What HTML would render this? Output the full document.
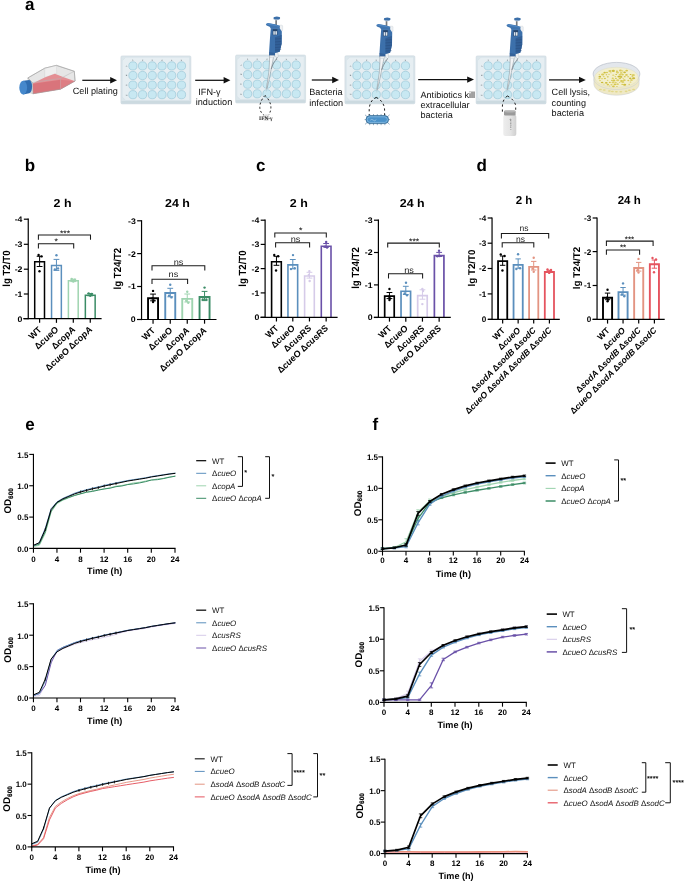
<!DOCTYPE html>
<html lang="en"><head><meta charset="utf-8"><title>Figure</title>
<style>html,body{margin:0;padding:0;background:#fff}svg{display:block}text{font-family:'Liberation Sans', Arial, Helvetica, sans-serif;text-rendering:geometricPrecision}</style></head><body>
<svg width="685" height="882" viewBox="0 0 685 882">
<rect width="685" height="882" fill="#fff"/>
<text x="24.9" y="9.8" font-size="17" font-weight="bold" font-style="normal" text-anchor="start" fill="#000">a</text>
<text x="24.8" y="171" font-size="17" font-weight="bold" font-style="normal" text-anchor="start" fill="#000">b</text>
<text x="256" y="170.6" font-size="17" font-weight="bold" font-style="normal" text-anchor="start" fill="#000">c</text>
<text x="476.4" y="171" font-size="17" font-weight="bold" font-style="normal" text-anchor="start" fill="#000">d</text>
<text x="25.2" y="430" font-size="17" font-weight="bold" font-style="normal" text-anchor="start" fill="#000">e</text>
<text x="372.6" y="429.8" font-size="17" font-weight="bold" font-style="normal" text-anchor="start" fill="#000">f</text>
<polygon points="27.8,77.93 44.66,68.22 56.41,65.36 74.29,71.28 75.11,80.99 60.49,89.17 32.9,93.77 32.39,82.52" fill="#e6e6e6" stroke="#9c9c9c" stroke-width="0.5" stroke-linejoin="round"/>
<polygon points="44.66,68.22 56.41,65.36 56.71,73.33 44.66,77.42" fill="#efefef" stroke="#c4c4c4" stroke-width="0.3" stroke-linejoin="round"/>
<polygon points="33.01,83.14 44.66,77.42 54.87,73.84 63.05,77.01 74.49,80.89 75.11,80.99 60.49,89.17 32.9,93.77" fill="#e48f94" stroke="none" stroke-width="0.4" stroke-linejoin="round"/>
<polygon points="32.7,83.75 60.49,79.66 60.49,89.17 32.9,93.77" fill="#d9747b" stroke="none" stroke-width="0.4" stroke-linejoin="round"/>
<polygon points="60.49,79.66 73.78,80.89 75.11,80.99 60.49,89.17" fill="#dd7e84" stroke="none" stroke-width="0.4" stroke-linejoin="round"/>
<polyline points="32.39,82.52 60.49,78.44 74.29,71.28" fill="none" stroke="#b5b5b5" stroke-width="0.5"/>
<line x1="60.49" y1="78.44" x2="60.49" y2="89.17" stroke="#c9a9ab" stroke-width="0.5"/>
<polygon points="27.8,77.93 44.66,68.22 56.41,65.36 74.29,71.28 75.11,80.99 60.49,89.17 32.9,93.77 32.39,82.52" fill="none" stroke="#9c9c9c" stroke-width="0.5" stroke-linejoin="round"/>
<polygon points="27.8,77.93 32.39,82.52 32.9,93.77 29.33,92.74" fill="#dcdcdc" stroke="#a6a6a6" stroke-width="0.3" stroke-linejoin="round"/>
<path d="M23.2 80.69 L29.33 79.97 A3.27 6.74 0 0 1 29.33 93.25 L23.2 94.58 Z" fill="#2f6db0"/>
<ellipse cx="23.2" cy="87.63" rx="3.88" ry="6.95" fill="#4588cc"/>
<rect x="120.9" y="55.9" width="70" height="48" rx="1.2" fill="#dbe6eb" stroke="#c6d3da" stroke-width="0.5"/>
<rect x="121.2" y="101" width="69.4" height="2.6" fill="#ccdae0"/>
<polygon points="125.7,57.3 189.5,57.3 189.5,100.5 125.7,100.5 122.3,97.1 122.3,60.7" fill="#e6eef2" stroke="#d0dce2" stroke-width="0.4" stroke-linejoin="round"/>
<circle cx="132.9" cy="65.9" r="4.1" fill="#c8e8f2" stroke="#93c3d4" stroke-width="0.6"/>
<circle cx="142.55" cy="65.9" r="4.1" fill="#c8e8f2" stroke="#93c3d4" stroke-width="0.6"/>
<circle cx="152.25" cy="65.9" r="4.1" fill="#c8e8f2" stroke="#93c3d4" stroke-width="0.6"/>
<circle cx="162" cy="65.9" r="4.1" fill="#c8e8f2" stroke="#93c3d4" stroke-width="0.6"/>
<circle cx="171.7" cy="65.9" r="4.1" fill="#c8e8f2" stroke="#93c3d4" stroke-width="0.6"/>
<circle cx="181.5" cy="65.9" r="4.1" fill="#c8e8f2" stroke="#93c3d4" stroke-width="0.6"/>
<circle cx="132.9" cy="75.5" r="4.1" fill="#c8e8f2" stroke="#93c3d4" stroke-width="0.6"/>
<circle cx="142.55" cy="75.5" r="4.1" fill="#c8e8f2" stroke="#93c3d4" stroke-width="0.6"/>
<circle cx="152.25" cy="75.5" r="4.1" fill="#c8e8f2" stroke="#93c3d4" stroke-width="0.6"/>
<circle cx="162" cy="75.5" r="4.1" fill="#c8e8f2" stroke="#93c3d4" stroke-width="0.6"/>
<circle cx="171.7" cy="75.5" r="4.1" fill="#c8e8f2" stroke="#93c3d4" stroke-width="0.6"/>
<circle cx="181.5" cy="75.5" r="4.1" fill="#c8e8f2" stroke="#93c3d4" stroke-width="0.6"/>
<circle cx="132.9" cy="85.1" r="4.1" fill="#c8e8f2" stroke="#93c3d4" stroke-width="0.6"/>
<circle cx="142.55" cy="85.1" r="4.1" fill="#c8e8f2" stroke="#93c3d4" stroke-width="0.6"/>
<circle cx="152.25" cy="85.1" r="4.1" fill="#c8e8f2" stroke="#93c3d4" stroke-width="0.6"/>
<circle cx="162" cy="85.1" r="4.1" fill="#c8e8f2" stroke="#93c3d4" stroke-width="0.6"/>
<circle cx="171.7" cy="85.1" r="4.1" fill="#c8e8f2" stroke="#93c3d4" stroke-width="0.6"/>
<circle cx="181.5" cy="85.1" r="4.1" fill="#c8e8f2" stroke="#93c3d4" stroke-width="0.6"/>
<circle cx="132.9" cy="94.7" r="4.1" fill="#c8e8f2" stroke="#93c3d4" stroke-width="0.6"/>
<circle cx="142.55" cy="94.7" r="4.1" fill="#c8e8f2" stroke="#93c3d4" stroke-width="0.6"/>
<circle cx="152.25" cy="94.7" r="4.1" fill="#c8e8f2" stroke="#93c3d4" stroke-width="0.6"/>
<circle cx="162" cy="94.7" r="4.1" fill="#c8e8f2" stroke="#93c3d4" stroke-width="0.6"/>
<circle cx="171.7" cy="94.7" r="4.1" fill="#c8e8f2" stroke="#93c3d4" stroke-width="0.6"/>
<circle cx="181.5" cy="94.7" r="4.1" fill="#c8e8f2" stroke="#93c3d4" stroke-width="0.6"/>
<text x="132.9" y="60.9" font-size="2.3" font-weight="normal" font-style="normal" text-anchor="middle" fill="#5d6a70">1</text>
<text x="142.55" y="60.9" font-size="2.3" font-weight="normal" font-style="normal" text-anchor="middle" fill="#5d6a70">2</text>
<text x="152.25" y="60.9" font-size="2.3" font-weight="normal" font-style="normal" text-anchor="middle" fill="#5d6a70">3</text>
<text x="162" y="60.9" font-size="2.3" font-weight="normal" font-style="normal" text-anchor="middle" fill="#5d6a70">4</text>
<text x="171.7" y="60.9" font-size="2.3" font-weight="normal" font-style="normal" text-anchor="middle" fill="#5d6a70">5</text>
<text x="181.5" y="60.9" font-size="2.3" font-weight="normal" font-style="normal" text-anchor="middle" fill="#5d6a70">6</text>
<text x="126.5" y="66.7" font-size="2.3" font-weight="normal" font-style="normal" text-anchor="middle" fill="#5d6a70">A</text>
<text x="126.5" y="76.3" font-size="2.3" font-weight="normal" font-style="normal" text-anchor="middle" fill="#5d6a70">B</text>
<text x="126.5" y="85.9" font-size="2.3" font-weight="normal" font-style="normal" text-anchor="middle" fill="#5d6a70">C</text>
<text x="126.5" y="95.5" font-size="2.3" font-weight="normal" font-style="normal" text-anchor="middle" fill="#5d6a70">D</text>
<rect x="235.6" y="55" width="70" height="48" rx="1.2" fill="#dbe6eb" stroke="#c6d3da" stroke-width="0.5"/>
<rect x="235.9" y="100.1" width="69.4" height="2.6" fill="#ccdae0"/>
<polygon points="240.4,56.4 304.2,56.4 304.2,99.6 240.4,99.6 237,96.2 237,59.8" fill="#e6eef2" stroke="#d0dce2" stroke-width="0.4" stroke-linejoin="round"/>
<circle cx="247.6" cy="65" r="4.1" fill="#c8e8f2" stroke="#93c3d4" stroke-width="0.6"/>
<circle cx="257.25" cy="65" r="4.1" fill="#c8e8f2" stroke="#93c3d4" stroke-width="0.6"/>
<circle cx="266.95" cy="65" r="4.1" fill="#c8e8f2" stroke="#93c3d4" stroke-width="0.6"/>
<circle cx="276.7" cy="65" r="4.1" fill="#c8e8f2" stroke="#93c3d4" stroke-width="0.6"/>
<circle cx="286.4" cy="65" r="4.1" fill="#c8e8f2" stroke="#93c3d4" stroke-width="0.6"/>
<circle cx="296.2" cy="65" r="4.1" fill="#c8e8f2" stroke="#93c3d4" stroke-width="0.6"/>
<circle cx="247.6" cy="74.6" r="4.1" fill="#c8e8f2" stroke="#93c3d4" stroke-width="0.6"/>
<circle cx="257.25" cy="74.6" r="4.1" fill="#c8e8f2" stroke="#93c3d4" stroke-width="0.6"/>
<circle cx="266.95" cy="74.6" r="4.1" fill="#c8e8f2" stroke="#93c3d4" stroke-width="0.6"/>
<circle cx="276.7" cy="74.6" r="4.1" fill="#c8e8f2" stroke="#93c3d4" stroke-width="0.6"/>
<circle cx="286.4" cy="74.6" r="4.1" fill="#c8e8f2" stroke="#93c3d4" stroke-width="0.6"/>
<circle cx="296.2" cy="74.6" r="4.1" fill="#c8e8f2" stroke="#93c3d4" stroke-width="0.6"/>
<circle cx="247.6" cy="84.2" r="4.1" fill="#c8e8f2" stroke="#93c3d4" stroke-width="0.6"/>
<circle cx="257.25" cy="84.2" r="4.1" fill="#c8e8f2" stroke="#93c3d4" stroke-width="0.6"/>
<circle cx="266.95" cy="84.2" r="4.1" fill="#c8e8f2" stroke="#93c3d4" stroke-width="0.6"/>
<circle cx="276.7" cy="84.2" r="4.1" fill="#c8e8f2" stroke="#93c3d4" stroke-width="0.6"/>
<circle cx="286.4" cy="84.2" r="4.1" fill="#c8e8f2" stroke="#93c3d4" stroke-width="0.6"/>
<circle cx="296.2" cy="84.2" r="4.1" fill="#c8e8f2" stroke="#93c3d4" stroke-width="0.6"/>
<circle cx="247.6" cy="93.8" r="4.1" fill="#c8e8f2" stroke="#93c3d4" stroke-width="0.6"/>
<circle cx="257.25" cy="93.8" r="4.1" fill="#c8e8f2" stroke="#93c3d4" stroke-width="0.6"/>
<circle cx="266.95" cy="93.8" r="4.1" fill="#c8e8f2" stroke="#93c3d4" stroke-width="0.6"/>
<circle cx="276.7" cy="93.8" r="4.1" fill="#c8e8f2" stroke="#93c3d4" stroke-width="0.6"/>
<circle cx="286.4" cy="93.8" r="4.1" fill="#c8e8f2" stroke="#93c3d4" stroke-width="0.6"/>
<circle cx="296.2" cy="93.8" r="4.1" fill="#c8e8f2" stroke="#93c3d4" stroke-width="0.6"/>
<text x="247.6" y="60" font-size="2.3" font-weight="normal" font-style="normal" text-anchor="middle" fill="#5d6a70">1</text>
<text x="257.25" y="60" font-size="2.3" font-weight="normal" font-style="normal" text-anchor="middle" fill="#5d6a70">2</text>
<text x="266.95" y="60" font-size="2.3" font-weight="normal" font-style="normal" text-anchor="middle" fill="#5d6a70">3</text>
<text x="276.7" y="60" font-size="2.3" font-weight="normal" font-style="normal" text-anchor="middle" fill="#5d6a70">4</text>
<text x="286.4" y="60" font-size="2.3" font-weight="normal" font-style="normal" text-anchor="middle" fill="#5d6a70">5</text>
<text x="296.2" y="60" font-size="2.3" font-weight="normal" font-style="normal" text-anchor="middle" fill="#5d6a70">6</text>
<text x="241.2" y="65.8" font-size="2.3" font-weight="normal" font-style="normal" text-anchor="middle" fill="#5d6a70">A</text>
<text x="241.2" y="75.4" font-size="2.3" font-weight="normal" font-style="normal" text-anchor="middle" fill="#5d6a70">B</text>
<text x="241.2" y="85" font-size="2.3" font-weight="normal" font-style="normal" text-anchor="middle" fill="#5d6a70">C</text>
<text x="241.2" y="94.6" font-size="2.3" font-weight="normal" font-style="normal" text-anchor="middle" fill="#5d6a70">D</text>
<rect x="344.9" y="55.8" width="70" height="48" rx="1.2" fill="#dbe6eb" stroke="#c6d3da" stroke-width="0.5"/>
<rect x="345.2" y="100.9" width="69.4" height="2.6" fill="#ccdae0"/>
<polygon points="349.7,57.2 413.5,57.2 413.5,100.4 349.7,100.4 346.3,97 346.3,60.6" fill="#e6eef2" stroke="#d0dce2" stroke-width="0.4" stroke-linejoin="round"/>
<circle cx="356.9" cy="65.8" r="4.1" fill="#c8e8f2" stroke="#93c3d4" stroke-width="0.6"/>
<circle cx="366.55" cy="65.8" r="4.1" fill="#c8e8f2" stroke="#93c3d4" stroke-width="0.6"/>
<circle cx="376.25" cy="65.8" r="4.1" fill="#c8e8f2" stroke="#93c3d4" stroke-width="0.6"/>
<circle cx="386" cy="65.8" r="4.1" fill="#c8e8f2" stroke="#93c3d4" stroke-width="0.6"/>
<circle cx="395.7" cy="65.8" r="4.1" fill="#c8e8f2" stroke="#93c3d4" stroke-width="0.6"/>
<circle cx="405.5" cy="65.8" r="4.1" fill="#c8e8f2" stroke="#93c3d4" stroke-width="0.6"/>
<circle cx="356.9" cy="75.4" r="4.1" fill="#c8e8f2" stroke="#93c3d4" stroke-width="0.6"/>
<circle cx="366.55" cy="75.4" r="4.1" fill="#c8e8f2" stroke="#93c3d4" stroke-width="0.6"/>
<circle cx="376.25" cy="75.4" r="4.1" fill="#c8e8f2" stroke="#93c3d4" stroke-width="0.6"/>
<circle cx="386" cy="75.4" r="4.1" fill="#c8e8f2" stroke="#93c3d4" stroke-width="0.6"/>
<circle cx="395.7" cy="75.4" r="4.1" fill="#c8e8f2" stroke="#93c3d4" stroke-width="0.6"/>
<circle cx="405.5" cy="75.4" r="4.1" fill="#c8e8f2" stroke="#93c3d4" stroke-width="0.6"/>
<circle cx="356.9" cy="85" r="4.1" fill="#c8e8f2" stroke="#93c3d4" stroke-width="0.6"/>
<circle cx="366.55" cy="85" r="4.1" fill="#c8e8f2" stroke="#93c3d4" stroke-width="0.6"/>
<circle cx="376.25" cy="85" r="4.1" fill="#c8e8f2" stroke="#93c3d4" stroke-width="0.6"/>
<circle cx="386" cy="85" r="4.1" fill="#c8e8f2" stroke="#93c3d4" stroke-width="0.6"/>
<circle cx="395.7" cy="85" r="4.1" fill="#c8e8f2" stroke="#93c3d4" stroke-width="0.6"/>
<circle cx="405.5" cy="85" r="4.1" fill="#c8e8f2" stroke="#93c3d4" stroke-width="0.6"/>
<circle cx="356.9" cy="94.6" r="4.1" fill="#c8e8f2" stroke="#93c3d4" stroke-width="0.6"/>
<circle cx="366.55" cy="94.6" r="4.1" fill="#c8e8f2" stroke="#93c3d4" stroke-width="0.6"/>
<circle cx="376.25" cy="94.6" r="4.1" fill="#c8e8f2" stroke="#93c3d4" stroke-width="0.6"/>
<circle cx="386" cy="94.6" r="4.1" fill="#c8e8f2" stroke="#93c3d4" stroke-width="0.6"/>
<circle cx="395.7" cy="94.6" r="4.1" fill="#c8e8f2" stroke="#93c3d4" stroke-width="0.6"/>
<circle cx="405.5" cy="94.6" r="4.1" fill="#c8e8f2" stroke="#93c3d4" stroke-width="0.6"/>
<text x="356.9" y="60.8" font-size="2.3" font-weight="normal" font-style="normal" text-anchor="middle" fill="#5d6a70">1</text>
<text x="366.55" y="60.8" font-size="2.3" font-weight="normal" font-style="normal" text-anchor="middle" fill="#5d6a70">2</text>
<text x="376.25" y="60.8" font-size="2.3" font-weight="normal" font-style="normal" text-anchor="middle" fill="#5d6a70">3</text>
<text x="386" y="60.8" font-size="2.3" font-weight="normal" font-style="normal" text-anchor="middle" fill="#5d6a70">4</text>
<text x="395.7" y="60.8" font-size="2.3" font-weight="normal" font-style="normal" text-anchor="middle" fill="#5d6a70">5</text>
<text x="405.5" y="60.8" font-size="2.3" font-weight="normal" font-style="normal" text-anchor="middle" fill="#5d6a70">6</text>
<text x="350.5" y="66.6" font-size="2.3" font-weight="normal" font-style="normal" text-anchor="middle" fill="#5d6a70">A</text>
<text x="350.5" y="76.2" font-size="2.3" font-weight="normal" font-style="normal" text-anchor="middle" fill="#5d6a70">B</text>
<text x="350.5" y="85.8" font-size="2.3" font-weight="normal" font-style="normal" text-anchor="middle" fill="#5d6a70">C</text>
<text x="350.5" y="95.4" font-size="2.3" font-weight="normal" font-style="normal" text-anchor="middle" fill="#5d6a70">D</text>
<rect x="476.1" y="55.9" width="70" height="48" rx="1.2" fill="#dbe6eb" stroke="#c6d3da" stroke-width="0.5"/>
<rect x="476.4" y="101" width="69.4" height="2.6" fill="#ccdae0"/>
<polygon points="480.9,57.3 544.7,57.3 544.7,100.5 480.9,100.5 477.5,97.1 477.5,60.7" fill="#e6eef2" stroke="#d0dce2" stroke-width="0.4" stroke-linejoin="round"/>
<circle cx="488.1" cy="65.9" r="4.1" fill="#c8e8f2" stroke="#93c3d4" stroke-width="0.6"/>
<circle cx="497.75" cy="65.9" r="4.1" fill="#c8e8f2" stroke="#93c3d4" stroke-width="0.6"/>
<circle cx="507.45" cy="65.9" r="4.1" fill="#c8e8f2" stroke="#93c3d4" stroke-width="0.6"/>
<circle cx="517.2" cy="65.9" r="4.1" fill="#c8e8f2" stroke="#93c3d4" stroke-width="0.6"/>
<circle cx="526.9" cy="65.9" r="4.1" fill="#c8e8f2" stroke="#93c3d4" stroke-width="0.6"/>
<circle cx="536.7" cy="65.9" r="4.1" fill="#c8e8f2" stroke="#93c3d4" stroke-width="0.6"/>
<circle cx="488.1" cy="75.5" r="4.1" fill="#c8e8f2" stroke="#93c3d4" stroke-width="0.6"/>
<circle cx="497.75" cy="75.5" r="4.1" fill="#c8e8f2" stroke="#93c3d4" stroke-width="0.6"/>
<circle cx="507.45" cy="75.5" r="4.1" fill="#c8e8f2" stroke="#93c3d4" stroke-width="0.6"/>
<circle cx="517.2" cy="75.5" r="4.1" fill="#c8e8f2" stroke="#93c3d4" stroke-width="0.6"/>
<circle cx="526.9" cy="75.5" r="4.1" fill="#c8e8f2" stroke="#93c3d4" stroke-width="0.6"/>
<circle cx="536.7" cy="75.5" r="4.1" fill="#c8e8f2" stroke="#93c3d4" stroke-width="0.6"/>
<circle cx="488.1" cy="85.1" r="4.1" fill="#c8e8f2" stroke="#93c3d4" stroke-width="0.6"/>
<circle cx="497.75" cy="85.1" r="4.1" fill="#c8e8f2" stroke="#93c3d4" stroke-width="0.6"/>
<circle cx="507.45" cy="85.1" r="4.1" fill="#c8e8f2" stroke="#93c3d4" stroke-width="0.6"/>
<circle cx="517.2" cy="85.1" r="4.1" fill="#c8e8f2" stroke="#93c3d4" stroke-width="0.6"/>
<circle cx="526.9" cy="85.1" r="4.1" fill="#c8e8f2" stroke="#93c3d4" stroke-width="0.6"/>
<circle cx="536.7" cy="85.1" r="4.1" fill="#c8e8f2" stroke="#93c3d4" stroke-width="0.6"/>
<circle cx="488.1" cy="94.7" r="4.1" fill="#c8e8f2" stroke="#93c3d4" stroke-width="0.6"/>
<circle cx="497.75" cy="94.7" r="4.1" fill="#c8e8f2" stroke="#93c3d4" stroke-width="0.6"/>
<circle cx="507.45" cy="94.7" r="4.1" fill="#c8e8f2" stroke="#93c3d4" stroke-width="0.6"/>
<circle cx="517.2" cy="94.7" r="4.1" fill="#c8e8f2" stroke="#93c3d4" stroke-width="0.6"/>
<circle cx="526.9" cy="94.7" r="4.1" fill="#c8e8f2" stroke="#93c3d4" stroke-width="0.6"/>
<circle cx="536.7" cy="94.7" r="4.1" fill="#c8e8f2" stroke="#93c3d4" stroke-width="0.6"/>
<text x="488.1" y="60.9" font-size="2.3" font-weight="normal" font-style="normal" text-anchor="middle" fill="#5d6a70">1</text>
<text x="497.75" y="60.9" font-size="2.3" font-weight="normal" font-style="normal" text-anchor="middle" fill="#5d6a70">2</text>
<text x="507.45" y="60.9" font-size="2.3" font-weight="normal" font-style="normal" text-anchor="middle" fill="#5d6a70">3</text>
<text x="517.2" y="60.9" font-size="2.3" font-weight="normal" font-style="normal" text-anchor="middle" fill="#5d6a70">4</text>
<text x="526.9" y="60.9" font-size="2.3" font-weight="normal" font-style="normal" text-anchor="middle" fill="#5d6a70">5</text>
<text x="536.7" y="60.9" font-size="2.3" font-weight="normal" font-style="normal" text-anchor="middle" fill="#5d6a70">6</text>
<text x="481.7" y="66.7" font-size="2.3" font-weight="normal" font-style="normal" text-anchor="middle" fill="#5d6a70">A</text>
<text x="481.7" y="76.3" font-size="2.3" font-weight="normal" font-style="normal" text-anchor="middle" fill="#5d6a70">B</text>
<text x="481.7" y="85.9" font-size="2.3" font-weight="normal" font-style="normal" text-anchor="middle" fill="#5d6a70">C</text>
<text x="481.7" y="95.5" font-size="2.3" font-weight="normal" font-style="normal" text-anchor="middle" fill="#5d6a70">D</text>
<polygon points="269.58,55.04 273.89,55.3 272.58,62.22 270.76,71.36 268.8,81.15 266.97,88.72 266.58,88.33 267.62,80.5 268.93,71.36 269.45,62.22" fill="#f2f4f6" stroke="#737d85" stroke-width="0.45" stroke-linejoin="round"/>
<polygon points="274.91,52.74 277.97,51.72 278.2,56.82 276.84,57.73 275.02,55.69" fill="#eef1f4" stroke="#a9b1b8" stroke-width="0.3" stroke-linejoin="round"/>
<path d="M277.18 57.39 C276.04 60.23 273.24 62.22 271.28 69.01" fill="none" stroke="#7f8890" stroke-width="0.9"/>
<line x1="266.97" y1="83.11" x2="266.32" y2="91.59" stroke="#aab3ba" stroke-width="0.35"/>
<rect x="275.3" y="19.38" width="1.65" height="6.7" fill="#74797e"/>
<ellipse cx="276.5" cy="18.81" rx="3.29" ry="1.48" fill="#d3dde8"/>
<ellipse cx="276.84" cy="18.01" rx="3.29" ry="1.53" fill="#3b6fa9"/>
<rect x="279.11" y="25.16" width="3.52" height="5.67" fill="#eef1f4" rx="1" stroke="#b8bfc6" stroke-width="0.3"/>
<polygon points="265.83,24.03 267.93,23.01 275.02,24.14 279.9,25.73 279.67,28.68 270.94,28.68 269.63,26.87 266.51,25.5" fill="#3f74af" stroke="none" stroke-width="0.4" stroke-linejoin="round"/>
<polygon points="266.51,23.97 268.1,23.29 275.02,24.43 279.56,26.01 279.45,26.87 274.45,25.67 267.99,24.65" fill="#4e86c2" stroke="none" stroke-width="0.4" stroke-linejoin="round"/>
<polygon points="270.82,28.34 279.67,28.34 281.83,31.4 281.6,43.77 279.67,51.72 274.91,52.96 274.79,55.46 269.23,55.46 269.12,51.72 270.03,37.53" fill="#3c70ab" stroke="none" stroke-width="0.4" stroke-linejoin="round"/>
<polygon points="275.02,37.25 281.6,34.81 281.6,43.77 279.67,51.72 275.02,52.85" fill="#315f97" stroke="none" stroke-width="0.4" stroke-linejoin="round"/>
<line x1="275.02" y1="39.12" x2="281.15" y2="38.55" stroke="#254a7b" stroke-width="0.45"/>
<line x1="275.02" y1="41.96" x2="281.15" y2="41.39" stroke="#254a7b" stroke-width="0.45"/>
<line x1="275.02" y1="44.79" x2="281.15" y2="44.23" stroke="#254a7b" stroke-width="0.45"/>
<line x1="275.02" y1="47.63" x2="281.15" y2="47.06" stroke="#254a7b" stroke-width="0.45"/>
<line x1="275.02" y1="50.13" x2="281.15" y2="49.56" stroke="#254a7b" stroke-width="0.45"/>
<polygon points="269.18,52 274.85,52.96 274.79,55.46 269.23,55.46" fill="#34629a" stroke="none" stroke-width="0.4" stroke-linejoin="round"/>
<rect x="272.75" y="29.19" width="4.65" height="5.9" fill="#27466d"/>
<rect x="273.32" y="31.18" width="1.48" height="3.52" fill="#dde6ee"/>
<rect x="275.36" y="31.18" width="1.59" height="3.52" fill="#dde6ee"/>
<polygon points="269.63,55.46 274.45,55.46 273.89,57.39 270.03,57.39" fill="#eef1f4" stroke="#a9b1b8" stroke-width="0.3" stroke-linejoin="round"/>
<polygon points="379.98,56.04 384.29,56.3 382.98,63.22 381.16,72.36 379.2,82.15 377.37,89.72 376.98,89.33 378.02,81.5 379.33,72.36 379.85,63.22" fill="#f2f4f6" stroke="#737d85" stroke-width="0.45" stroke-linejoin="round"/>
<polygon points="385.31,53.74 388.37,52.72 388.6,57.82 387.24,58.73 385.42,56.69" fill="#eef1f4" stroke="#a9b1b8" stroke-width="0.3" stroke-linejoin="round"/>
<path d="M387.58 58.39 C386.44 61.23 383.64 63.22 381.68 70.01" fill="none" stroke="#7f8890" stroke-width="0.9"/>
<line x1="377.37" y1="84.11" x2="376.72" y2="92.59" stroke="#aab3ba" stroke-width="0.35"/>
<rect x="385.7" y="20.38" width="1.65" height="6.7" fill="#74797e"/>
<ellipse cx="386.9" cy="19.81" rx="3.29" ry="1.48" fill="#d3dde8"/>
<ellipse cx="387.24" cy="19.01" rx="3.29" ry="1.53" fill="#3b6fa9"/>
<rect x="389.51" y="26.16" width="3.52" height="5.67" fill="#eef1f4" rx="1" stroke="#b8bfc6" stroke-width="0.3"/>
<polygon points="376.23,25.03 378.33,24.01 385.42,25.14 390.3,26.73 390.07,29.68 381.34,29.68 380.03,27.87 376.91,26.5" fill="#3f74af" stroke="none" stroke-width="0.4" stroke-linejoin="round"/>
<polygon points="376.91,24.97 378.5,24.29 385.42,25.43 389.96,27.01 389.85,27.87 384.85,26.67 378.39,25.65" fill="#4e86c2" stroke="none" stroke-width="0.4" stroke-linejoin="round"/>
<polygon points="381.22,29.34 390.07,29.34 392.23,32.4 392,44.77 390.07,52.72 385.31,53.96 385.19,56.46 379.63,56.46 379.52,52.72 380.43,38.53" fill="#3c70ab" stroke="none" stroke-width="0.4" stroke-linejoin="round"/>
<polygon points="385.42,38.25 392,35.81 392,44.77 390.07,52.72 385.42,53.85" fill="#315f97" stroke="none" stroke-width="0.4" stroke-linejoin="round"/>
<line x1="385.42" y1="40.12" x2="391.55" y2="39.55" stroke="#254a7b" stroke-width="0.45"/>
<line x1="385.42" y1="42.96" x2="391.55" y2="42.39" stroke="#254a7b" stroke-width="0.45"/>
<line x1="385.42" y1="45.79" x2="391.55" y2="45.23" stroke="#254a7b" stroke-width="0.45"/>
<line x1="385.42" y1="48.63" x2="391.55" y2="48.06" stroke="#254a7b" stroke-width="0.45"/>
<line x1="385.42" y1="51.13" x2="391.55" y2="50.56" stroke="#254a7b" stroke-width="0.45"/>
<polygon points="379.58,53 385.25,53.96 385.19,56.46 379.63,56.46" fill="#34629a" stroke="none" stroke-width="0.4" stroke-linejoin="round"/>
<rect x="383.15" y="30.19" width="4.65" height="5.9" fill="#27466d"/>
<rect x="383.72" y="32.18" width="1.48" height="3.52" fill="#dde6ee"/>
<rect x="385.76" y="32.18" width="1.59" height="3.52" fill="#dde6ee"/>
<polygon points="380.03,56.46 384.85,56.46 384.29,58.39 380.43,58.39" fill="#eef1f4" stroke="#a9b1b8" stroke-width="0.3" stroke-linejoin="round"/>
<polygon points="510.18,56.04 514.49,56.3 513.18,63.22 511.36,72.36 509.4,82.15 507.57,89.72 507.18,89.33 508.22,81.5 509.53,72.36 510.05,63.22" fill="#f2f4f6" stroke="#737d85" stroke-width="0.45" stroke-linejoin="round"/>
<polygon points="515.51,53.74 518.57,52.72 518.8,57.82 517.44,58.73 515.62,56.69" fill="#eef1f4" stroke="#a9b1b8" stroke-width="0.3" stroke-linejoin="round"/>
<path d="M517.78 58.39 C516.64 61.23 513.84 63.22 511.88 70.01" fill="none" stroke="#7f8890" stroke-width="0.9"/>
<line x1="507.57" y1="84.11" x2="506.92" y2="92.59" stroke="#aab3ba" stroke-width="0.35"/>
<rect x="515.9" y="20.38" width="1.65" height="6.7" fill="#74797e"/>
<ellipse cx="517.1" cy="19.81" rx="3.29" ry="1.48" fill="#d3dde8"/>
<ellipse cx="517.44" cy="19.01" rx="3.29" ry="1.53" fill="#3b6fa9"/>
<rect x="519.71" y="26.16" width="3.52" height="5.67" fill="#eef1f4" rx="1" stroke="#b8bfc6" stroke-width="0.3"/>
<polygon points="506.43,25.03 508.53,24.01 515.62,25.14 520.5,26.73 520.27,29.68 511.54,29.68 510.23,27.87 507.11,26.5" fill="#3f74af" stroke="none" stroke-width="0.4" stroke-linejoin="round"/>
<polygon points="507.11,24.97 508.7,24.29 515.62,25.43 520.16,27.01 520.05,27.87 515.05,26.67 508.59,25.65" fill="#4e86c2" stroke="none" stroke-width="0.4" stroke-linejoin="round"/>
<polygon points="511.42,29.34 520.27,29.34 522.43,32.4 522.2,44.77 520.27,52.72 515.51,53.96 515.39,56.46 509.83,56.46 509.72,52.72 510.63,38.53" fill="#3c70ab" stroke="none" stroke-width="0.4" stroke-linejoin="round"/>
<polygon points="515.62,38.25 522.2,35.81 522.2,44.77 520.27,52.72 515.62,53.85" fill="#315f97" stroke="none" stroke-width="0.4" stroke-linejoin="round"/>
<line x1="515.62" y1="40.12" x2="521.75" y2="39.55" stroke="#254a7b" stroke-width="0.45"/>
<line x1="515.62" y1="42.96" x2="521.75" y2="42.39" stroke="#254a7b" stroke-width="0.45"/>
<line x1="515.62" y1="45.79" x2="521.75" y2="45.23" stroke="#254a7b" stroke-width="0.45"/>
<line x1="515.62" y1="48.63" x2="521.75" y2="48.06" stroke="#254a7b" stroke-width="0.45"/>
<line x1="515.62" y1="51.13" x2="521.75" y2="50.56" stroke="#254a7b" stroke-width="0.45"/>
<polygon points="509.78,53 515.45,53.96 515.39,56.46 509.83,56.46" fill="#34629a" stroke="none" stroke-width="0.4" stroke-linejoin="round"/>
<rect x="513.35" y="30.19" width="4.65" height="5.9" fill="#27466d"/>
<rect x="513.92" y="32.18" width="1.48" height="3.52" fill="#dde6ee"/>
<rect x="515.96" y="32.18" width="1.59" height="3.52" fill="#dde6ee"/>
<polygon points="510.23,56.46 515.05,56.46 514.49,58.39 510.63,58.39" fill="#eef1f4" stroke="#a9b1b8" stroke-width="0.3" stroke-linejoin="round"/>
<path d="M265 95.5 C262.5 98 259.8 102.5 259.8 107.3 C259.8 111 262 114 264.3 115.6 M265 95.5 C267.8 98 270.9 102.5 270.9 107.3 C270.9 111 269.5 114 268.2 115.6" fill="none" stroke="#111" stroke-width="0.9" stroke-dasharray="2 2.2"/>
<circle cx="266.2" cy="117.7" r="3.4" fill="#e0e0e0"/>
<text x="265.8" y="119.5" font-size="5.3" font-weight="bold" text-anchor="middle" style="font-family:'Liberation Serif','Times New Roman',serif" fill="#111">IFN-γ</text>
<path d="M376.2 97.4 C371.5 99.5 369.3 104 369.2 110 V115.4 M376.2 97.4 C381 99.5 384.4 104 384.6 110 V115.4" fill="none" stroke="#111" stroke-width="0.95" stroke-dasharray="2.2 2.6"/>
<line x1="369.7" y1="114" x2="369.7" y2="125.2" stroke="#2f5f85" stroke-width="0.5"/>
<line x1="373.5" y1="114" x2="373.5" y2="125.2" stroke="#2f5f85" stroke-width="0.5"/>
<line x1="377.3" y1="114" x2="377.3" y2="125.2" stroke="#2f5f85" stroke-width="0.5"/>
<line x1="381.1" y1="114" x2="381.1" y2="125.2" stroke="#2f5f85" stroke-width="0.5"/>
<line x1="384.9" y1="114" x2="384.9" y2="125.2" stroke="#2f5f85" stroke-width="0.5"/>
<line x1="367.2" y1="116.8" x2="365" y2="114.8" stroke="#2f5f85" stroke-width="0.5"/>
<line x1="367.2" y1="122.4" x2="365" y2="124.4" stroke="#2f5f85" stroke-width="0.5"/>
<line x1="387.4" y1="116.8" x2="389.6" y2="114.8" stroke="#2f5f85" stroke-width="0.5"/>
<line x1="387.4" y1="122.4" x2="389.6" y2="124.4" stroke="#2f5f85" stroke-width="0.5"/>
<line x1="364.6" y1="119.6" x2="390" y2="119.6" stroke="#2f5f85" stroke-width="0.5"/>
<rect x="366" y="115.6" width="22.6" height="8" rx="4" fill="#4b92ca" stroke="#2f6188" stroke-width="0.7"/>
<rect x="367.2" y="116.8" width="20.2" height="5.6" rx="2.8" fill="none" stroke="#b7dbf2" stroke-width="0.45"/>
<path d="M370.3 120.2 q1.5 -1.6 3 0 t3 -0.6" fill="none" stroke="#d6ecfa" stroke-width="0.45"/>
<path d="M507.4 96.0 C504 98 502.6 102 502.4 106 V112.6 M507.4 96.0 C511.5 98 515.4 102 515.7 106 V112.6" fill="none" stroke="#111" stroke-width="0.95" stroke-dasharray="2.2 2.8"/>
<defs><linearGradient id="vg" x1="0" x2="1" y1="0" y2="0"><stop offset="0" stop-color="#ededed"/><stop offset="0.55" stop-color="#e4e4e4"/><stop offset="1" stop-color="#cfcfcf"/></linearGradient></defs>
<rect x="503.3" y="114.8" width="13" height="21.2" rx="2" fill="url(#vg)"/>
<rect x="504" y="110.4" width="11.6" height="5.0" rx="1.2" fill="#9a9a9a"/>
<ellipse cx="509.8" cy="111.5" rx="5.6" ry="1.1" fill="#b5b5b5"/>
<text x="510" y="118.8" font-size="2.3" font-weight="normal" font-style="normal" text-anchor="start" fill="#555" transform="rotate(90 510 118.8)">gentamicin</text>
<path d="M593.9 77 V84 A22.6 11.2 0 0 0 639.1 84 V77 Z" fill="#efe9c6" stroke="#c9cdd3" stroke-width="0.5"/>
<ellipse cx="616.5" cy="74" rx="23.4" ry="11.6" fill="#e3e7ec" stroke="#aeb6c1" stroke-width="0.6"/>
<ellipse cx="616.5" cy="77.3" rx="21.8" ry="10" fill="#f3efcd" stroke="#d9d8c0" stroke-width="0.4"/>
<path d="M593.7 78.5 A22.8 11 0 0 0 639.3 78.5" fill="none" stroke="#c7ccd4" stroke-width="0.5"/>
<ellipse cx="609.97" cy="71.12" rx="1.59" ry="1.02" fill="#d9cb5c"/>
<ellipse cx="613.3" cy="70.88" rx="1.6" ry="1.02" fill="#cdbd3f"/>
<ellipse cx="616.95" cy="71.14" rx="1.03" ry="0.66" fill="#cdbd3f"/>
<ellipse cx="620.4" cy="70.51" rx="1.45" ry="0.93" fill="#d9cb5c"/>
<ellipse cx="622.41" cy="70.93" rx="0.98" ry="0.63" fill="#ddd06a"/>
<ellipse cx="626.67" cy="70.57" rx="1.35" ry="0.86" fill="#d6c64e"/>
<ellipse cx="604.65" cy="72.65" rx="1.27" ry="0.81" fill="#cdbd3f"/>
<ellipse cx="606.99" cy="72.45" rx="1.12" ry="0.72" fill="#d9cb5c"/>
<ellipse cx="610.87" cy="72.72" rx="0.79" ry="0.5" fill="#ddd06a"/>
<ellipse cx="617.45" cy="72.54" rx="1.55" ry="0.99" fill="#ddd06a"/>
<ellipse cx="621.24" cy="72.9" rx="1.33" ry="0.85" fill="#ddd06a"/>
<ellipse cx="624.58" cy="72.28" rx="1.33" ry="0.85" fill="#c9b938"/>
<ellipse cx="599.22" cy="74.61" rx="0.74" ry="0.47" fill="#d6c64e"/>
<ellipse cx="602.68" cy="74.48" rx="1.61" ry="1.03" fill="#d9cb5c"/>
<ellipse cx="606.42" cy="74.78" rx="0.79" ry="0.5" fill="#c9b938"/>
<ellipse cx="609" cy="74.21" rx="0.82" ry="0.52" fill="#d9cb5c"/>
<ellipse cx="613.26" cy="75.13" rx="1.15" ry="0.73" fill="#ddd06a"/>
<ellipse cx="616.17" cy="74.44" rx="0.82" ry="0.53" fill="#c9b938"/>
<ellipse cx="620.22" cy="74.68" rx="1.57" ry="1" fill="#ddd06a"/>
<ellipse cx="622.69" cy="74.64" rx="1.2" ry="0.77" fill="#d9cb5c"/>
<ellipse cx="626.48" cy="74.94" rx="1.34" ry="0.86" fill="#d6c64e"/>
<ellipse cx="630.62" cy="74.51" rx="0.95" ry="0.61" fill="#c9b938"/>
<ellipse cx="633.32" cy="75.13" rx="1.58" ry="1.01" fill="#ddd06a"/>
<ellipse cx="599.82" cy="76.65" rx="1.32" ry="0.84" fill="#c9b938"/>
<ellipse cx="603.76" cy="76.6" rx="1.02" ry="0.65" fill="#ddd06a"/>
<ellipse cx="607.83" cy="76.84" rx="1.02" ry="0.65" fill="#cdbd3f"/>
<ellipse cx="615.33" cy="76.62" rx="0.84" ry="0.54" fill="#ddd06a"/>
<ellipse cx="618.8" cy="76.58" rx="1.36" ry="0.87" fill="#c9b938"/>
<ellipse cx="621.07" cy="76.88" rx="1.31" ry="0.84" fill="#c9b938"/>
<ellipse cx="624.78" cy="76.65" rx="0.94" ry="0.6" fill="#d6c64e"/>
<ellipse cx="628.11" cy="76.69" rx="0.86" ry="0.55" fill="#cdbd3f"/>
<ellipse cx="632.31" cy="76.14" rx="0.9" ry="0.58" fill="#d6c64e"/>
<ellipse cx="599.45" cy="78.53" rx="1.08" ry="0.69" fill="#ddd06a"/>
<ellipse cx="602.01" cy="78.66" rx="0.91" ry="0.58" fill="#ddd06a"/>
<ellipse cx="604.9" cy="78.46" rx="1.07" ry="0.69" fill="#d6c64e"/>
<ellipse cx="612.78" cy="78.35" rx="1.17" ry="0.75" fill="#d9cb5c"/>
<ellipse cx="615.87" cy="78.4" rx="1.07" ry="0.69" fill="#d9cb5c"/>
<ellipse cx="619.93" cy="78.42" rx="1.25" ry="0.8" fill="#d9cb5c"/>
<ellipse cx="623.16" cy="78.25" rx="0.77" ry="0.49" fill="#d6c64e"/>
<ellipse cx="630.26" cy="78.38" rx="1.22" ry="0.78" fill="#c9b938"/>
<ellipse cx="633.59" cy="78.28" rx="1.6" ry="1.02" fill="#c9b938"/>
<ellipse cx="600.05" cy="80.59" rx="0.97" ry="0.62" fill="#ddd06a"/>
<ellipse cx="607.59" cy="80.29" rx="0.8" ry="0.51" fill="#d9cb5c"/>
<ellipse cx="611.84" cy="80.25" rx="0.82" ry="0.52" fill="#c9b938"/>
<ellipse cx="613.82" cy="80.53" rx="1.56" ry="1" fill="#d6c64e"/>
<ellipse cx="617.69" cy="80.27" rx="1.61" ry="1.03" fill="#ddd06a"/>
<ellipse cx="621.59" cy="80.99" rx="1.5" ry="0.96" fill="#d6c64e"/>
<ellipse cx="624.33" cy="80.13" rx="1.35" ry="0.86" fill="#d9cb5c"/>
<ellipse cx="628.27" cy="80.53" rx="1.03" ry="0.66" fill="#d9cb5c"/>
<ellipse cx="631.51" cy="80" rx="1.33" ry="0.85" fill="#d6c64e"/>
<ellipse cx="602.08" cy="82.53" rx="1.28" ry="0.82" fill="#c9b938"/>
<ellipse cx="606.27" cy="82.79" rx="1.33" ry="0.85" fill="#cdbd3f"/>
<ellipse cx="609.84" cy="82.42" rx="0.97" ry="0.62" fill="#d6c64e"/>
<ellipse cx="613.01" cy="82.38" rx="1.42" ry="0.91" fill="#ddd06a"/>
<ellipse cx="615.63" cy="82.43" rx="1.15" ry="0.74" fill="#ddd06a"/>
<ellipse cx="619.76" cy="82.38" rx="0.73" ry="0.47" fill="#cdbd3f"/>
<ellipse cx="622.83" cy="82.04" rx="1.57" ry="1.01" fill="#ddd06a"/>
<ellipse cx="630.52" cy="82" rx="0.89" ry="0.57" fill="#d6c64e"/>
<ellipse cx="603.96" cy="84.06" rx="0.73" ry="0.47" fill="#d6c64e"/>
<ellipse cx="607.86" cy="84.65" rx="1.22" ry="0.78" fill="#d6c64e"/>
<ellipse cx="611.49" cy="84.78" rx="1.09" ry="0.7" fill="#ddd06a"/>
<ellipse cx="614.9" cy="84.39" rx="1.3" ry="0.83" fill="#d6c64e"/>
<ellipse cx="617.52" cy="84.19" rx="1.32" ry="0.85" fill="#ddd06a"/>
<ellipse cx="622.26" cy="84.45" rx="0.93" ry="0.6" fill="#d9cb5c"/>
<ellipse cx="624.68" cy="84.73" rx="1.6" ry="1.03" fill="#cdbd3f"/>
<ellipse cx="629.18" cy="84.35" rx="0.81" ry="0.52" fill="#d6c64e"/>
<ellipse cx="609.67" cy="85.88" rx="0.74" ry="0.47" fill="#cdbd3f"/>
<ellipse cx="613.41" cy="86.28" rx="1.39" ry="0.89" fill="#d6c64e"/>
<ellipse cx="616.96" cy="86.52" rx="0.82" ry="0.52" fill="#d9cb5c"/>
<ellipse cx="600.45" cy="89.56" rx="1.5" ry="0.8" fill="#e2d88a"/>
<ellipse cx="604.24" cy="89.93" rx="1.5" ry="0.8" fill="#e2d88a"/>
<ellipse cx="609.39" cy="90.98" rx="1.5" ry="0.8" fill="#e2d88a"/>
<ellipse cx="612.37" cy="91.45" rx="1.5" ry="0.8" fill="#e2d88a"/>
<ellipse cx="616.36" cy="91.75" rx="1.5" ry="0.8" fill="#e2d88a"/>
<ellipse cx="620.79" cy="91.79" rx="1.5" ry="0.8" fill="#e2d88a"/>
<ellipse cx="626.11" cy="91.33" rx="1.5" ry="0.8" fill="#e2d88a"/>
<ellipse cx="629.42" cy="90.24" rx="1.5" ry="0.8" fill="#e2d88a"/>
<ellipse cx="633.55" cy="89.54" rx="1.5" ry="0.8" fill="#e2d88a"/>
<line x1="82.3" y1="80.3" x2="112" y2="80.3" stroke="#111" stroke-width="1.25"/>
<polygon points="117,80.3 110.2,77.1 110.2,83.5" fill="#111" stroke="none" stroke-width="0.4" stroke-linejoin="round"/>
<line x1="195.2" y1="80.3" x2="225.4" y2="80.3" stroke="#111" stroke-width="1.25"/>
<polygon points="230.4,80.3 223.6,77.1 223.6,83.5" fill="#111" stroke="none" stroke-width="0.4" stroke-linejoin="round"/>
<line x1="311.8" y1="80" x2="334" y2="80" stroke="#111" stroke-width="1.25"/>
<polygon points="339,80 332.2,76.8 332.2,83.2" fill="#111" stroke="none" stroke-width="0.4" stroke-linejoin="round"/>
<line x1="418.2" y1="79.6" x2="469" y2="79.6" stroke="#111" stroke-width="1.25"/>
<polygon points="474,79.6 467.2,76.4 467.2,82.8" fill="#111" stroke="none" stroke-width="0.4" stroke-linejoin="round"/>
<line x1="549" y1="79.9" x2="580.8" y2="79.9" stroke="#111" stroke-width="1.25"/>
<polygon points="585.8,79.9 579,76.7 579,83.1" fill="#111" stroke="none" stroke-width="0.4" stroke-linejoin="round"/>
<text x="72.8" y="93.6" font-size="9.1" font-weight="normal" font-style="normal" text-anchor="start" fill="#111">Cell plating</text>
<text x="198.3" y="94.9" font-size="9.1" font-weight="normal" font-style="normal" text-anchor="start" fill="#111">IFN-γ</text>
<text x="195.8" y="105.4" font-size="9.1" font-weight="normal" font-style="normal" text-anchor="start" fill="#111">induction</text>
<text x="309.3" y="95.4" font-size="9.1" font-weight="normal" font-style="normal" text-anchor="start" fill="#111">Bacteria</text>
<text x="309.3" y="105.8" font-size="9.1" font-weight="normal" font-style="normal" text-anchor="start" fill="#111">infection</text>
<text x="420.5" y="97.8" font-size="9.1" font-weight="normal" font-style="normal" text-anchor="start" fill="#111">Antibiotics kill</text>
<text x="420.5" y="108" font-size="9.1" font-weight="normal" font-style="normal" text-anchor="start" fill="#111">extracellular</text>
<text x="420.5" y="118.1" font-size="9.1" font-weight="normal" font-style="normal" text-anchor="start" fill="#111">bacteria</text>
<text x="551.6" y="95.4" font-size="9.1" font-weight="normal" font-style="normal" text-anchor="start" fill="#111">Cell lysis,</text>
<text x="551.6" y="105.8" font-size="9.1" font-weight="normal" font-style="normal" text-anchor="start" fill="#111">counting</text>
<text x="551.6" y="116.2" font-size="9.1" font-weight="normal" font-style="normal" text-anchor="start" fill="#111">bacteria</text>
<path d="M34.7 318.65 V261.85 H44.5 V318.65" fill="#fff" stroke="#000000" stroke-width="1.5"/>
<line x1="39.6" y1="256.3" x2="39.6" y2="266.5" stroke="#000000" stroke-width="1"/>
<line x1="36.7" y1="256.3" x2="42.5" y2="256.3" stroke="#000000" stroke-width="1"/>
<line x1="36.7" y1="266.5" x2="42.5" y2="266.5" stroke="#000000" stroke-width="1"/>
<circle cx="38.6" cy="255" r="1.2" fill="#000000"/>
<circle cx="41.5" cy="256.4" r="1.2" fill="#000000"/>
<circle cx="39.5" cy="271.2" r="1.2" fill="#000000"/>
<path d="M51.55 318.65 V265.55 H61.35 V318.65" fill="#fff" stroke="#5b8fbd" stroke-width="1.5"/>
<line x1="56.45" y1="259.4" x2="56.45" y2="270.4" stroke="#5b8fbd" stroke-width="1"/>
<line x1="53.55" y1="259.4" x2="59.35" y2="259.4" stroke="#5b8fbd" stroke-width="1"/>
<line x1="53.55" y1="270.4" x2="59.35" y2="270.4" stroke="#5b8fbd" stroke-width="1"/>
<circle cx="56.45" cy="255.3" r="1.2" fill="#5b8fbd"/>
<circle cx="54.85" cy="269.4" r="1.2" fill="#5b8fbd"/>
<circle cx="58.05" cy="268.4" r="1.2" fill="#5b8fbd"/>
<path d="M68.4 318.65 V280.85 H78.2 V318.65" fill="#fff" stroke="#9fd4b0" stroke-width="1.5"/>
<line x1="73.3" y1="279.2" x2="73.3" y2="281.6" stroke="#9fd4b0" stroke-width="1"/>
<line x1="70.4" y1="279.2" x2="76.2" y2="279.2" stroke="#9fd4b0" stroke-width="1"/>
<line x1="70.4" y1="281.6" x2="76.2" y2="281.6" stroke="#9fd4b0" stroke-width="1"/>
<circle cx="71.7" cy="279" r="1.2" fill="#9fd4b0"/>
<circle cx="74.8" cy="279.8" r="1.2" fill="#9fd4b0"/>
<circle cx="73.3" cy="281.6" r="1.2" fill="#9fd4b0"/>
<path d="M85.35 318.65 V295.15 H95.15 V318.65" fill="#fff" stroke="#3b8c66" stroke-width="1.5"/>
<line x1="90.25" y1="293.6" x2="90.25" y2="295.8" stroke="#3b8c66" stroke-width="1"/>
<line x1="87.35" y1="293.6" x2="93.15" y2="293.6" stroke="#3b8c66" stroke-width="1"/>
<line x1="87.35" y1="295.8" x2="93.15" y2="295.8" stroke="#3b8c66" stroke-width="1"/>
<circle cx="88.65" cy="293.4" r="1.2" fill="#3b8c66"/>
<circle cx="91.75" cy="294" r="1.2" fill="#3b8c66"/>
<circle cx="90.25" cy="295.8" r="1.2" fill="#3b8c66"/>
<line x1="28.25" y1="218.6" x2="28.25" y2="319.25" stroke="#000" stroke-width="1.2"/>
<line x1="23.3" y1="318.65" x2="101.6" y2="318.65" stroke="#000" stroke-width="1.2"/>
<line x1="23.85" y1="219.2" x2="28.25" y2="219.2" stroke="#000" stroke-width="1.2"/>
<text transform="translate(22.45 222.1) scale(1.08 1)" font-size="8.1" font-weight="bold" text-anchor="end" fill="#000">-4</text>
<line x1="23.85" y1="244.3" x2="28.25" y2="244.3" stroke="#000" stroke-width="1.2"/>
<text transform="translate(22.45 247.2) scale(1.08 1)" font-size="8.1" font-weight="bold" text-anchor="end" fill="#000">-3</text>
<line x1="23.85" y1="269.2" x2="28.25" y2="269.2" stroke="#000" stroke-width="1.2"/>
<text transform="translate(22.45 272.1) scale(1.08 1)" font-size="8.1" font-weight="bold" text-anchor="end" fill="#000">-2</text>
<line x1="23.85" y1="294" x2="28.25" y2="294" stroke="#000" stroke-width="1.2"/>
<text transform="translate(22.45 296.9) scale(1.08 1)" font-size="8.1" font-weight="bold" text-anchor="end" fill="#000">-1</text>
<line x1="23.85" y1="318.65" x2="28.25" y2="318.65" stroke="#000" stroke-width="1.2"/>
<text transform="translate(22.45 321.55) scale(1.08 1)" font-size="8.1" font-weight="bold" text-anchor="end" fill="#000">0</text>
<line x1="39.6" y1="318.65" x2="39.6" y2="322.85" stroke="#000" stroke-width="1.2"/>
<line x1="56.45" y1="318.65" x2="56.45" y2="322.85" stroke="#000" stroke-width="1.2"/>
<line x1="73.3" y1="318.65" x2="73.3" y2="322.85" stroke="#000" stroke-width="1.2"/>
<line x1="90.25" y1="318.65" x2="90.25" y2="322.85" stroke="#000" stroke-width="1.2"/>
<text transform="translate(62.5 206.9) scale(1.08 1)" font-size="11.5" font-weight="bold" text-anchor="middle" fill="#000">2 h</text>
<text transform="translate(9.5 268.6) scale(1.08 1) rotate(-90)" font-size="9.6" font-weight="bold" text-anchor="middle" fill="#000">lg T2/T0</text>
<text transform="translate(42.4 330.15) scale(1.08 1) rotate(-45)" font-size="8.65" font-weight="bold" text-anchor="end" fill="#000">WT</text>
<text transform="translate(59.25 330.15) scale(1.08 1) rotate(-45)" font-size="8.65" font-weight="bold" text-anchor="end" fill="#000">Δ<tspan font-style="italic">cueO</tspan></text>
<text transform="translate(76.1 330.15) scale(1.08 1) rotate(-45)" font-size="8.65" font-weight="bold" text-anchor="end" fill="#000">Δ<tspan font-style="italic">copA</tspan></text>
<text transform="translate(93.05 330.15) scale(1.08 1) rotate(-45)" font-size="8.65" font-weight="bold" text-anchor="end" fill="#000">Δ<tspan font-style="italic">cueO</tspan> Δ<tspan font-style="italic">copA</tspan></text>
<path d="M38.4 239.8 V234.9 H90.5 V239.8" fill="none" stroke="#1a1a1a" stroke-width="1.05"/>
<text transform="translate(65 235.6) scale(1.08 1)" font-size="8" font-weight="normal" text-anchor="middle" fill="#000" stroke="#000" stroke-width="0.1">***</text>
<path d="M38.4 248.6 V243.8 H73.7 V248.6" fill="none" stroke="#1a1a1a" stroke-width="1.05"/>
<text transform="translate(56.2 243.9) scale(1.08 1)" font-size="8" font-weight="normal" text-anchor="middle" fill="#000" stroke="#000" stroke-width="0.1">*</text>
<path d="M148.05 319.5 V298.25 H158.05 V319.5" fill="#fff" stroke="#000000" stroke-width="1.9"/>
<line x1="153.05" y1="294.1" x2="153.05" y2="300.8" stroke="#000000" stroke-width="1"/>
<line x1="150.15" y1="294.1" x2="155.95" y2="294.1" stroke="#000000" stroke-width="1"/>
<line x1="150.15" y1="300.8" x2="155.95" y2="300.8" stroke="#000000" stroke-width="1"/>
<circle cx="153.05" cy="290.9" r="1.2" fill="#000000"/>
<circle cx="152.45" cy="298.4" r="1.2" fill="#000000"/>
<circle cx="153.65" cy="300.4" r="1.2" fill="#000000"/>
<circle cx="153.05" cy="302" r="1.2" fill="#000000"/>
<path d="M165.25 319.5 V292.95 H175.25 V319.5" fill="#fff" stroke="#5b8fbd" stroke-width="1.9"/>
<line x1="170.25" y1="288.3" x2="170.25" y2="296.8" stroke="#5b8fbd" stroke-width="1"/>
<line x1="167.35" y1="288.3" x2="173.15" y2="288.3" stroke="#5b8fbd" stroke-width="1"/>
<line x1="167.35" y1="296.8" x2="173.15" y2="296.8" stroke="#5b8fbd" stroke-width="1"/>
<circle cx="170.25" cy="284.7" r="1.2" fill="#5b8fbd"/>
<circle cx="169.05" cy="295.8" r="1.2" fill="#5b8fbd"/>
<circle cx="171.45" cy="297.4" r="1.2" fill="#5b8fbd"/>
<path d="M182.25 319.5 V298.85 H192.25 V319.5" fill="#fff" stroke="#9fd4b0" stroke-width="1.9"/>
<line x1="187.25" y1="294" x2="187.25" y2="302" stroke="#9fd4b0" stroke-width="1"/>
<line x1="184.35" y1="294" x2="190.15" y2="294" stroke="#9fd4b0" stroke-width="1"/>
<line x1="184.35" y1="302" x2="190.15" y2="302" stroke="#9fd4b0" stroke-width="1"/>
<circle cx="187.25" cy="291.7" r="1.2" fill="#9fd4b0"/>
<circle cx="186.25" cy="300.8" r="1.2" fill="#9fd4b0"/>
<circle cx="188.25" cy="302.8" r="1.2" fill="#9fd4b0"/>
<path d="M199.55 319.5 V297.05 H209.55 V319.5" fill="#fff" stroke="#3b8c66" stroke-width="1.9"/>
<line x1="204.55" y1="291.4" x2="204.55" y2="300.6" stroke="#3b8c66" stroke-width="1"/>
<line x1="201.65" y1="291.4" x2="207.45" y2="291.4" stroke="#3b8c66" stroke-width="1"/>
<line x1="201.65" y1="300.6" x2="207.45" y2="300.6" stroke="#3b8c66" stroke-width="1"/>
<circle cx="204.55" cy="287.6" r="1.2" fill="#3b8c66"/>
<circle cx="202.75" cy="299.4" r="1.2" fill="#3b8c66"/>
<circle cx="206.35" cy="299.4" r="1.2" fill="#3b8c66"/>
<line x1="141.55" y1="220.2" x2="141.55" y2="320.1" stroke="#000" stroke-width="1.2"/>
<line x1="137" y1="319.5" x2="216.5" y2="319.5" stroke="#000" stroke-width="1.2"/>
<line x1="137.15" y1="220.8" x2="141.55" y2="220.8" stroke="#000" stroke-width="1.2"/>
<text transform="translate(135.75 223.7) scale(1.08 1)" font-size="8.1" font-weight="bold" text-anchor="end" fill="#000">-3</text>
<line x1="137.15" y1="253.6" x2="141.55" y2="253.6" stroke="#000" stroke-width="1.2"/>
<text transform="translate(135.75 256.5) scale(1.08 1)" font-size="8.1" font-weight="bold" text-anchor="end" fill="#000">-2</text>
<line x1="137.15" y1="286.5" x2="141.55" y2="286.5" stroke="#000" stroke-width="1.2"/>
<text transform="translate(135.75 289.4) scale(1.08 1)" font-size="8.1" font-weight="bold" text-anchor="end" fill="#000">-1</text>
<line x1="137.15" y1="319.5" x2="141.55" y2="319.5" stroke="#000" stroke-width="1.2"/>
<text transform="translate(135.75 322.4) scale(1.08 1)" font-size="8.1" font-weight="bold" text-anchor="end" fill="#000">0</text>
<line x1="153.05" y1="319.5" x2="153.05" y2="323.7" stroke="#000" stroke-width="1.2"/>
<line x1="170.25" y1="319.5" x2="170.25" y2="323.7" stroke="#000" stroke-width="1.2"/>
<line x1="187.25" y1="319.5" x2="187.25" y2="323.7" stroke="#000" stroke-width="1.2"/>
<line x1="204.55" y1="319.5" x2="204.55" y2="323.7" stroke="#000" stroke-width="1.2"/>
<text transform="translate(177.4 207.3) scale(1.08 1)" font-size="11.5" font-weight="bold" text-anchor="middle" fill="#000">24 h</text>
<text transform="translate(121.3 268.6) scale(1.08 1) rotate(-90)" font-size="9.6" font-weight="bold" text-anchor="middle" fill="#000">lg T24/T2</text>
<text transform="translate(155.85 331) scale(1.08 1) rotate(-45)" font-size="8.65" font-weight="bold" text-anchor="end" fill="#000">WT</text>
<text transform="translate(173.05 331) scale(1.08 1) rotate(-45)" font-size="8.65" font-weight="bold" text-anchor="end" fill="#000">Δ<tspan font-style="italic">cueO</tspan></text>
<text transform="translate(190.05 331) scale(1.08 1) rotate(-45)" font-size="8.65" font-weight="bold" text-anchor="end" fill="#000">Δ<tspan font-style="italic">copA</tspan></text>
<text transform="translate(207.35 331) scale(1.08 1) rotate(-45)" font-size="8.65" font-weight="bold" text-anchor="end" fill="#000">Δ<tspan font-style="italic">cueO</tspan> Δ<tspan font-style="italic">copA</tspan></text>
<path d="M152 270.5 V265.8 H204.8 V270.5" fill="none" stroke="#1a1a1a" stroke-width="1.05"/>
<text transform="translate(178.6 264.9) scale(1.08 1)" font-size="8.5" font-weight="normal" text-anchor="middle" fill="#222">ns</text>
<path d="M152 283.9 V279.2 H187.6 V283.9" fill="none" stroke="#1a1a1a" stroke-width="1.05"/>
<text transform="translate(173.4 277.4) scale(1.08 1)" font-size="8.5" font-weight="normal" text-anchor="middle" fill="#222">ns</text>
<path d="M271.6 317.3 V261.8 H281.3 V317.3" fill="#fff" stroke="#000000" stroke-width="1.6"/>
<line x1="276.45" y1="256.3" x2="276.45" y2="265.3" stroke="#000000" stroke-width="1"/>
<line x1="273.55" y1="256.3" x2="279.35" y2="256.3" stroke="#000000" stroke-width="1"/>
<line x1="273.55" y1="265.3" x2="279.35" y2="265.3" stroke="#000000" stroke-width="1"/>
<circle cx="274.25" cy="255" r="1.2" fill="#000000"/>
<circle cx="278.15" cy="256.3" r="1.2" fill="#000000"/>
<circle cx="276.05" cy="270.5" r="1.2" fill="#000000"/>
<path d="M287.95 317.3 V264.9 H297.65 V317.3" fill="#fff" stroke="#5b8fbd" stroke-width="1.6"/>
<line x1="292.8" y1="259.5" x2="292.8" y2="268.8" stroke="#5b8fbd" stroke-width="1"/>
<line x1="289.9" y1="259.5" x2="295.7" y2="259.5" stroke="#5b8fbd" stroke-width="1"/>
<line x1="289.9" y1="268.8" x2="295.7" y2="268.8" stroke="#5b8fbd" stroke-width="1"/>
<circle cx="293" cy="255.1" r="1.2" fill="#5b8fbd"/>
<circle cx="291" cy="269.1" r="1.2" fill="#5b8fbd"/>
<circle cx="294.7" cy="268.2" r="1.2" fill="#5b8fbd"/>
<path d="M304.6 317.3 V276 H314.3 V317.3" fill="#fff" stroke="#d6cbe9" stroke-width="1.6"/>
<line x1="309.45" y1="272.3" x2="309.45" y2="278.1" stroke="#d6cbe9" stroke-width="1"/>
<line x1="306.55" y1="272.3" x2="312.35" y2="272.3" stroke="#d6cbe9" stroke-width="1"/>
<line x1="306.55" y1="278.1" x2="312.35" y2="278.1" stroke="#d6cbe9" stroke-width="1"/>
<circle cx="309.35" cy="271.1" r="1.2" fill="#d6cbe9"/>
<circle cx="309.65" cy="281" r="1.2" fill="#d6cbe9"/>
<circle cx="308.85" cy="275" r="1.2" fill="#d6cbe9"/>
<path d="M321.3 317.3 V246.2 H331 V317.3" fill="#fff" stroke="#6a51a8" stroke-width="1.6"/>
<line x1="326.15" y1="243.5" x2="326.15" y2="247.2" stroke="#6a51a8" stroke-width="1"/>
<line x1="323.25" y1="243.5" x2="329.05" y2="243.5" stroke="#6a51a8" stroke-width="1"/>
<line x1="323.25" y1="247.2" x2="329.05" y2="247.2" stroke="#6a51a8" stroke-width="1"/>
<circle cx="326.15" cy="241.9" r="1.2" fill="#6a51a8"/>
<circle cx="325.25" cy="246.8" r="1.2" fill="#6a51a8"/>
<circle cx="327.05" cy="247.6" r="1.2" fill="#6a51a8"/>
<line x1="265.1" y1="219.6" x2="265.1" y2="317.9" stroke="#000" stroke-width="1.2"/>
<line x1="260.5" y1="317.3" x2="337.6" y2="317.3" stroke="#000" stroke-width="1.2"/>
<line x1="260.7" y1="220.2" x2="265.1" y2="220.2" stroke="#000" stroke-width="1.2"/>
<text transform="translate(259.3 223.1) scale(1.08 1)" font-size="8.1" font-weight="bold" text-anchor="end" fill="#000">-4</text>
<line x1="260.7" y1="244.4" x2="265.1" y2="244.4" stroke="#000" stroke-width="1.2"/>
<text transform="translate(259.3 247.3) scale(1.08 1)" font-size="8.1" font-weight="bold" text-anchor="end" fill="#000">-3</text>
<line x1="260.7" y1="268.6" x2="265.1" y2="268.6" stroke="#000" stroke-width="1.2"/>
<text transform="translate(259.3 271.5) scale(1.08 1)" font-size="8.1" font-weight="bold" text-anchor="end" fill="#000">-2</text>
<line x1="260.7" y1="292.9" x2="265.1" y2="292.9" stroke="#000" stroke-width="1.2"/>
<text transform="translate(259.3 295.8) scale(1.08 1)" font-size="8.1" font-weight="bold" text-anchor="end" fill="#000">-1</text>
<line x1="260.7" y1="317.3" x2="265.1" y2="317.3" stroke="#000" stroke-width="1.2"/>
<text transform="translate(259.3 320.2) scale(1.08 1)" font-size="8.1" font-weight="bold" text-anchor="end" fill="#000">0</text>
<line x1="276.45" y1="317.3" x2="276.45" y2="321.5" stroke="#000" stroke-width="1.2"/>
<line x1="292.8" y1="317.3" x2="292.8" y2="321.5" stroke="#000" stroke-width="1.2"/>
<line x1="309.45" y1="317.3" x2="309.45" y2="321.5" stroke="#000" stroke-width="1.2"/>
<line x1="326.15" y1="317.3" x2="326.15" y2="321.5" stroke="#000" stroke-width="1.2"/>
<text transform="translate(298.8 207.3) scale(1.08 1)" font-size="11.5" font-weight="bold" text-anchor="middle" fill="#000">2 h</text>
<text transform="translate(246.3 268.6) scale(1.08 1) rotate(-90)" font-size="9.6" font-weight="bold" text-anchor="middle" fill="#000">lg T2/T0</text>
<text transform="translate(279.25 328.8) scale(1.08 1) rotate(-45)" font-size="8.65" font-weight="bold" text-anchor="end" fill="#000">WT</text>
<text transform="translate(295.6 328.8) scale(1.08 1) rotate(-45)" font-size="8.65" font-weight="bold" text-anchor="end" fill="#000">Δ<tspan font-style="italic">cueO</tspan></text>
<text transform="translate(312.25 328.8) scale(1.08 1) rotate(-45)" font-size="8.65" font-weight="bold" text-anchor="end" fill="#000">Δ<tspan font-style="italic">cusRS</tspan></text>
<text transform="translate(328.95 328.8) scale(1.08 1) rotate(-45)" font-size="8.65" font-weight="bold" text-anchor="end" fill="#000">Δ<tspan font-style="italic">cueO</tspan> Δ<tspan font-style="italic">cusRS</tspan></text>
<path d="M274.8 237.5 V232.9 H326.3 V237.5" fill="none" stroke="#1a1a1a" stroke-width="1.05"/>
<text transform="translate(300.6 233.2) scale(1.08 1)" font-size="8" font-weight="normal" text-anchor="middle" fill="#000" stroke="#000" stroke-width="0.1">*</text>
<path d="M275.6 247.5 V242.8 H309.6 V247.5" fill="none" stroke="#1a1a1a" stroke-width="1.05"/>
<text transform="translate(295.6 241.6) scale(1.08 1)" font-size="8.5" font-weight="normal" text-anchor="middle" fill="#222">ns</text>
<path d="M384.68 317.45 V296.15 H394.22 V317.45" fill="#fff" stroke="#000000" stroke-width="1.7"/>
<line x1="389.45" y1="292.5" x2="389.45" y2="298.6" stroke="#000000" stroke-width="1"/>
<line x1="386.55" y1="292.5" x2="392.35" y2="292.5" stroke="#000000" stroke-width="1"/>
<line x1="386.55" y1="298.6" x2="392.35" y2="298.6" stroke="#000000" stroke-width="1"/>
<circle cx="389.45" cy="289" r="1.2" fill="#000000"/>
<circle cx="388.85" cy="296.6" r="1.2" fill="#000000"/>
<circle cx="390.05" cy="298.4" r="1.2" fill="#000000"/>
<circle cx="389.45" cy="300" r="1.2" fill="#000000"/>
<path d="M401.03 317.45 V291.25 H410.57 V317.45" fill="#fff" stroke="#5b8fbd" stroke-width="1.7"/>
<line x1="405.8" y1="286.3" x2="405.8" y2="294.5" stroke="#5b8fbd" stroke-width="1"/>
<line x1="402.9" y1="286.3" x2="408.7" y2="286.3" stroke="#5b8fbd" stroke-width="1"/>
<line x1="402.9" y1="294.5" x2="408.7" y2="294.5" stroke="#5b8fbd" stroke-width="1"/>
<circle cx="406" cy="282.8" r="1.2" fill="#5b8fbd"/>
<circle cx="404.6" cy="293.4" r="1.2" fill="#5b8fbd"/>
<circle cx="407" cy="295.2" r="1.2" fill="#5b8fbd"/>
<path d="M417.68 317.45 V295.65 H427.22 V317.45" fill="#fff" stroke="#d6cbe9" stroke-width="1.7"/>
<line x1="422.45" y1="289.8" x2="422.45" y2="299.2" stroke="#d6cbe9" stroke-width="1"/>
<line x1="419.55" y1="289.8" x2="425.35" y2="289.8" stroke="#d6cbe9" stroke-width="1"/>
<line x1="419.55" y1="299.2" x2="425.35" y2="299.2" stroke="#d6cbe9" stroke-width="1"/>
<circle cx="422.35" cy="289" r="1.2" fill="#d6cbe9"/>
<circle cx="423.05" cy="291" r="1.2" fill="#d6cbe9"/>
<circle cx="422.35" cy="304.1" r="1.2" fill="#d6cbe9"/>
<path d="M434.38 317.45 V255.65 H443.92 V317.45" fill="#fff" stroke="#6a51a8" stroke-width="1.7"/>
<line x1="439.15" y1="252.4" x2="439.15" y2="256.5" stroke="#6a51a8" stroke-width="1"/>
<line x1="436.25" y1="252.4" x2="442.05" y2="252.4" stroke="#6a51a8" stroke-width="1"/>
<line x1="436.25" y1="256.5" x2="442.05" y2="256.5" stroke="#6a51a8" stroke-width="1"/>
<circle cx="439.05" cy="250.7" r="1.2" fill="#6a51a8"/>
<circle cx="437.35" cy="256.2" r="1.2" fill="#6a51a8"/>
<circle cx="439.75" cy="256" r="1.2" fill="#6a51a8"/>
<line x1="378.4" y1="219.6" x2="378.4" y2="318.05" stroke="#000" stroke-width="1.2"/>
<line x1="373.8" y1="317.45" x2="450.8" y2="317.45" stroke="#000" stroke-width="1.2"/>
<line x1="374" y1="220.2" x2="378.4" y2="220.2" stroke="#000" stroke-width="1.2"/>
<text transform="translate(372.6 223.1) scale(1.08 1)" font-size="8.1" font-weight="bold" text-anchor="end" fill="#000">-3</text>
<line x1="374" y1="252.5" x2="378.4" y2="252.5" stroke="#000" stroke-width="1.2"/>
<text transform="translate(372.6 255.4) scale(1.08 1)" font-size="8.1" font-weight="bold" text-anchor="end" fill="#000">-2</text>
<line x1="374" y1="284.9" x2="378.4" y2="284.9" stroke="#000" stroke-width="1.2"/>
<text transform="translate(372.6 287.8) scale(1.08 1)" font-size="8.1" font-weight="bold" text-anchor="end" fill="#000">-1</text>
<line x1="374" y1="317.45" x2="378.4" y2="317.45" stroke="#000" stroke-width="1.2"/>
<text transform="translate(372.6 320.35) scale(1.08 1)" font-size="8.1" font-weight="bold" text-anchor="end" fill="#000">0</text>
<line x1="389.45" y1="317.45" x2="389.45" y2="321.65" stroke="#000" stroke-width="1.2"/>
<line x1="405.8" y1="317.45" x2="405.8" y2="321.65" stroke="#000" stroke-width="1.2"/>
<line x1="422.45" y1="317.45" x2="422.45" y2="321.65" stroke="#000" stroke-width="1.2"/>
<line x1="439.15" y1="317.45" x2="439.15" y2="321.65" stroke="#000" stroke-width="1.2"/>
<text transform="translate(412.2 207.3) scale(1.08 1)" font-size="11.5" font-weight="bold" text-anchor="middle" fill="#000">24 h</text>
<text transform="translate(358.5 268) scale(1.08 1) rotate(-90)" font-size="9.6" font-weight="bold" text-anchor="middle" fill="#000">lg T24/T2</text>
<text transform="translate(392.25 328.95) scale(1.08 1) rotate(-45)" font-size="8.65" font-weight="bold" text-anchor="end" fill="#000">WT</text>
<text transform="translate(408.6 328.95) scale(1.08 1) rotate(-45)" font-size="8.65" font-weight="bold" text-anchor="end" fill="#000">Δ<tspan font-style="italic">cueO</tspan></text>
<text transform="translate(425.25 328.95) scale(1.08 1) rotate(-45)" font-size="8.65" font-weight="bold" text-anchor="end" fill="#000">Δ<tspan font-style="italic">cusRS</tspan></text>
<text transform="translate(441.95 328.95) scale(1.08 1) rotate(-45)" font-size="8.65" font-weight="bold" text-anchor="end" fill="#000">Δ<tspan font-style="italic">cueO</tspan> Δ<tspan font-style="italic">cusRS</tspan></text>
<path d="M387.7 247.6 V243.1 H439.3 V247.6" fill="none" stroke="#1a1a1a" stroke-width="1.05"/>
<text transform="translate(414.1 243.5) scale(1.08 1)" font-size="8" font-weight="normal" text-anchor="middle" fill="#000" stroke="#000" stroke-width="0.1">***</text>
<path d="M388.5 278.5 V273.8 H422.6 V278.5" fill="none" stroke="#1a1a1a" stroke-width="1.05"/>
<text transform="translate(409 272.9) scale(1.08 1)" font-size="8.5" font-weight="normal" text-anchor="middle" fill="#222">ns</text>
<path d="M498.05 319.4 V261.2 H507.25 V319.4" fill="#fff" stroke="#000000" stroke-width="1.8"/>
<line x1="502.65" y1="256" x2="502.65" y2="265.3" stroke="#000000" stroke-width="1"/>
<line x1="499.95" y1="256" x2="505.35" y2="256" stroke="#000000" stroke-width="1"/>
<line x1="499.95" y1="265.3" x2="505.35" y2="265.3" stroke="#000000" stroke-width="1"/>
<circle cx="500.75" cy="254.4" r="1.2" fill="#000000"/>
<circle cx="504.55" cy="256" r="1.2" fill="#000000"/>
<circle cx="502.45" cy="270.5" r="1.2" fill="#000000"/>
<path d="M513.55 319.4 V264.8 H522.75 V319.4" fill="#fff" stroke="#5b8fbd" stroke-width="1.8"/>
<line x1="518.15" y1="258.9" x2="518.15" y2="268.2" stroke="#5b8fbd" stroke-width="1"/>
<line x1="515.45" y1="258.9" x2="520.85" y2="258.9" stroke="#5b8fbd" stroke-width="1"/>
<line x1="515.45" y1="268.2" x2="520.85" y2="268.2" stroke="#5b8fbd" stroke-width="1"/>
<circle cx="518.05" cy="254.2" r="1.2" fill="#5b8fbd"/>
<circle cx="516.35" cy="269.1" r="1.2" fill="#5b8fbd"/>
<circle cx="520.05" cy="268.2" r="1.2" fill="#5b8fbd"/>
<path d="M529.1 319.4 V266.8 H538.3 V319.4" fill="#fff" stroke="#e39482" stroke-width="1.8"/>
<line x1="533.7" y1="261.4" x2="533.7" y2="270" stroke="#e39482" stroke-width="1"/>
<line x1="531" y1="261.4" x2="536.4" y2="261.4" stroke="#e39482" stroke-width="1"/>
<line x1="531" y1="270" x2="536.4" y2="270" stroke="#e39482" stroke-width="1"/>
<circle cx="533.7" cy="257.7" r="1.2" fill="#e39482"/>
<circle cx="532.7" cy="268.6" r="1.2" fill="#e39482"/>
<circle cx="533.7" cy="271.7" r="1.2" fill="#e39482"/>
<path d="M544.8 319.4 V272 H554 V319.4" fill="#fff" stroke="#e5545f" stroke-width="1.8"/>
<line x1="549.4" y1="270.3" x2="549.4" y2="272.3" stroke="#e5545f" stroke-width="1"/>
<line x1="546.7" y1="270.3" x2="552.1" y2="270.3" stroke="#e5545f" stroke-width="1"/>
<line x1="546.7" y1="272.3" x2="552.1" y2="272.3" stroke="#e5545f" stroke-width="1"/>
<circle cx="547.5" cy="269.4" r="1.2" fill="#e5545f"/>
<circle cx="551" cy="270" r="1.2" fill="#e5545f"/>
<circle cx="549.2" cy="272.9" r="1.2" fill="#e5545f"/>
<line x1="492.05" y1="217.4" x2="492.05" y2="320" stroke="#000" stroke-width="1.2"/>
<line x1="488" y1="319.4" x2="559.8" y2="319.4" stroke="#000" stroke-width="1.2"/>
<line x1="487.65" y1="218" x2="492.05" y2="218" stroke="#000" stroke-width="1.2"/>
<text transform="translate(486.25 220.9) scale(1 1)" font-size="8.1" font-weight="bold" text-anchor="end" fill="#000">-4</text>
<line x1="487.65" y1="243.2" x2="492.05" y2="243.2" stroke="#000" stroke-width="1.2"/>
<text transform="translate(486.25 246.1) scale(1 1)" font-size="8.1" font-weight="bold" text-anchor="end" fill="#000">-3</text>
<line x1="487.65" y1="268.5" x2="492.05" y2="268.5" stroke="#000" stroke-width="1.2"/>
<text transform="translate(486.25 271.4) scale(1 1)" font-size="8.1" font-weight="bold" text-anchor="end" fill="#000">-2</text>
<line x1="487.65" y1="293.9" x2="492.05" y2="293.9" stroke="#000" stroke-width="1.2"/>
<text transform="translate(486.25 296.8) scale(1 1)" font-size="8.1" font-weight="bold" text-anchor="end" fill="#000">-1</text>
<line x1="487.65" y1="319.4" x2="492.05" y2="319.4" stroke="#000" stroke-width="1.2"/>
<text transform="translate(486.25 322.3) scale(1 1)" font-size="8.1" font-weight="bold" text-anchor="end" fill="#000">0</text>
<line x1="502.65" y1="319.4" x2="502.65" y2="323.6" stroke="#000" stroke-width="1.2"/>
<line x1="518.15" y1="319.4" x2="518.15" y2="323.6" stroke="#000" stroke-width="1.2"/>
<line x1="533.7" y1="319.4" x2="533.7" y2="323.6" stroke="#000" stroke-width="1.2"/>
<line x1="549.4" y1="319.4" x2="549.4" y2="323.6" stroke="#000" stroke-width="1.2"/>
<text transform="translate(524 204.1) scale(1 1)" font-size="11.5" font-weight="bold" text-anchor="middle" fill="#000">2 h</text>
<text transform="translate(474.8 268) scale(1 1) rotate(-90)" font-size="9.8" font-weight="bold" text-anchor="middle" fill="#000">lg T2/T0</text>
<text transform="translate(505.45 330.9) scale(1 1) rotate(-45)" font-size="8.65" font-weight="bold" text-anchor="end" fill="#000">WT</text>
<text transform="translate(520.95 330.9) scale(1 1) rotate(-45)" font-size="8.65" font-weight="bold" text-anchor="end" fill="#000">Δ<tspan font-style="italic">cueO</tspan></text>
<text transform="translate(536.5 330.9) scale(1 1) rotate(-45)" font-size="8.65" font-weight="bold" text-anchor="end" fill="#000">Δ<tspan font-style="italic">sodA</tspan> Δ<tspan font-style="italic">sodB</tspan> Δ<tspan font-style="italic">sodC</tspan></text>
<text transform="translate(552.2 330.9) scale(1 1) rotate(-45)" font-size="8.65" font-weight="bold" text-anchor="end" fill="#000">Δ<tspan font-style="italic">cueO</tspan> Δ<tspan font-style="italic">sodA</tspan> Δ<tspan font-style="italic">sodB</tspan> Δ<tspan font-style="italic">sodC</tspan></text>
<path d="M501.4 238.4 V233.5 H548.7 V238.4" fill="none" stroke="#1a1a1a" stroke-width="1.05"/>
<text transform="translate(524.1 230.6) scale(1 1)" font-size="8.5" font-weight="normal" text-anchor="middle" fill="#222">ns</text>
<path d="M502.2 247.5 V242.8 H533.8 V247.5" fill="none" stroke="#1a1a1a" stroke-width="1.05"/>
<text transform="translate(520.4 241.6) scale(1 1)" font-size="8.5" font-weight="normal" text-anchor="middle" fill="#222">ns</text>
<path d="M603 319.4 V297.75 H612.1 V319.4" fill="#fff" stroke="#000000" stroke-width="1.9"/>
<line x1="607.55" y1="293.1" x2="607.55" y2="299.7" stroke="#000000" stroke-width="1"/>
<line x1="604.85" y1="293.1" x2="610.25" y2="293.1" stroke="#000000" stroke-width="1"/>
<line x1="604.85" y1="299.7" x2="610.25" y2="299.7" stroke="#000000" stroke-width="1"/>
<circle cx="607.55" cy="289.8" r="1.2" fill="#000000"/>
<circle cx="606.95" cy="297.8" r="1.2" fill="#000000"/>
<circle cx="608.15" cy="299.6" r="1.2" fill="#000000"/>
<circle cx="607.55" cy="301.2" r="1.2" fill="#000000"/>
<path d="M618.5 319.4 V292.15 H627.6 V319.4" fill="#fff" stroke="#5b8fbd" stroke-width="1.9"/>
<line x1="623.05" y1="287.5" x2="623.05" y2="295.1" stroke="#5b8fbd" stroke-width="1"/>
<line x1="620.35" y1="287.5" x2="625.75" y2="287.5" stroke="#5b8fbd" stroke-width="1"/>
<line x1="620.35" y1="295.1" x2="625.75" y2="295.1" stroke="#5b8fbd" stroke-width="1"/>
<circle cx="623.05" cy="283.4" r="1.2" fill="#5b8fbd"/>
<circle cx="621.85" cy="294.4" r="1.2" fill="#5b8fbd"/>
<circle cx="624.25" cy="296.2" r="1.2" fill="#5b8fbd"/>
<path d="M634.15 319.4 V267.95 H643.25 V319.4" fill="#fff" stroke="#e39482" stroke-width="1.9"/>
<line x1="638.7" y1="262.4" x2="638.7" y2="271.1" stroke="#e39482" stroke-width="1"/>
<line x1="636" y1="262.4" x2="641.4" y2="262.4" stroke="#e39482" stroke-width="1"/>
<line x1="636" y1="271.1" x2="641.4" y2="271.1" stroke="#e39482" stroke-width="1"/>
<circle cx="638.5" cy="258.9" r="1.2" fill="#e39482"/>
<circle cx="637.5" cy="270.2" r="1.2" fill="#e39482"/>
<circle cx="638.5" cy="272.6" r="1.2" fill="#e39482"/>
<path d="M649.85 319.4 V264.25 H658.95 V319.4" fill="#fff" stroke="#e5545f" stroke-width="1.9"/>
<line x1="654.4" y1="260" x2="654.4" y2="268.2" stroke="#e5545f" stroke-width="1"/>
<line x1="651.7" y1="260" x2="657.1" y2="260" stroke="#e5545f" stroke-width="1"/>
<line x1="651.7" y1="268.2" x2="657.1" y2="268.2" stroke="#e5545f" stroke-width="1"/>
<circle cx="652.5" cy="258" r="1.2" fill="#e5545f"/>
<circle cx="656" cy="259.5" r="1.2" fill="#e5545f"/>
<circle cx="654" cy="272.3" r="1.2" fill="#e5545f"/>
<line x1="597.05" y1="217.4" x2="597.05" y2="320" stroke="#000" stroke-width="1.2"/>
<line x1="592.6" y1="319.4" x2="664.7" y2="319.4" stroke="#000" stroke-width="1.2"/>
<line x1="592.65" y1="218" x2="597.05" y2="218" stroke="#000" stroke-width="1.2"/>
<text transform="translate(591.25 220.9) scale(1 1)" font-size="8.1" font-weight="bold" text-anchor="end" fill="#000">-3</text>
<line x1="592.65" y1="251.6" x2="597.05" y2="251.6" stroke="#000" stroke-width="1.2"/>
<text transform="translate(591.25 254.5) scale(1 1)" font-size="8.1" font-weight="bold" text-anchor="end" fill="#000">-2</text>
<line x1="592.65" y1="285.5" x2="597.05" y2="285.5" stroke="#000" stroke-width="1.2"/>
<text transform="translate(591.25 288.4) scale(1 1)" font-size="8.1" font-weight="bold" text-anchor="end" fill="#000">-1</text>
<line x1="592.65" y1="319.4" x2="597.05" y2="319.4" stroke="#000" stroke-width="1.2"/>
<text transform="translate(591.25 322.3) scale(1 1)" font-size="8.1" font-weight="bold" text-anchor="end" fill="#000">0</text>
<line x1="607.55" y1="319.4" x2="607.55" y2="323.6" stroke="#000" stroke-width="1.2"/>
<line x1="623.05" y1="319.4" x2="623.05" y2="323.6" stroke="#000" stroke-width="1.2"/>
<line x1="638.7" y1="319.4" x2="638.7" y2="323.6" stroke="#000" stroke-width="1.2"/>
<line x1="654.4" y1="319.4" x2="654.4" y2="323.6" stroke="#000" stroke-width="1.2"/>
<text transform="translate(629.2 204.1) scale(1 1)" font-size="11.5" font-weight="bold" text-anchor="middle" fill="#000">24 h</text>
<text transform="translate(579.5 268) scale(1 1) rotate(-90)" font-size="9.8" font-weight="bold" text-anchor="middle" fill="#000">lg T24/T2</text>
<text transform="translate(610.35 330.9) scale(1 1) rotate(-45)" font-size="8.65" font-weight="bold" text-anchor="end" fill="#000">WT</text>
<text transform="translate(625.85 330.9) scale(1 1) rotate(-45)" font-size="8.65" font-weight="bold" text-anchor="end" fill="#000">Δ<tspan font-style="italic">cueO</tspan></text>
<text transform="translate(641.5 330.9) scale(1 1) rotate(-45)" font-size="8.65" font-weight="bold" text-anchor="end" fill="#000">Δ<tspan font-style="italic">sodA</tspan> Δ<tspan font-style="italic">sodB</tspan> Δ<tspan font-style="italic">sodC</tspan></text>
<text transform="translate(657.2 330.9) scale(1 1) rotate(-45)" font-size="8.65" font-weight="bold" text-anchor="end" fill="#000">Δ<tspan font-style="italic">cueO</tspan> Δ<tspan font-style="italic">sodA</tspan> Δ<tspan font-style="italic">sodB</tspan> Δ<tspan font-style="italic">sodC</tspan></text>
<path d="M606.4 246 V241.1 H653.1 V246" fill="none" stroke="#1a1a1a" stroke-width="1.05"/>
<text transform="translate(629.5 242.3) scale(1 1)" font-size="8" font-weight="normal" text-anchor="middle" fill="#000" stroke="#000" stroke-width="0.1">***</text>
<path d="M606.4 254.8 V249.9 H639.6 V254.8" fill="none" stroke="#1a1a1a" stroke-width="1.05"/>
<text transform="translate(623.1 250.3) scale(1 1)" font-size="8" font-weight="normal" text-anchor="middle" fill="#000" stroke="#000" stroke-width="0.1">**</text>
<path d="M33.45 546.52 L39.35 545.27 L45.25 533.36 L51.14 512.05 L57.04 503.59 L62.94 500.22 L68.84 497.8 L74.74 495.57 L80.63 493.53 L86.53 492.33 L92.43 490.83 L98.33 489.79 L104.23 488.88 L110.12 487.82 L116.02 486.11 L121.92 485.44 L127.82 484.37 L133.71 482.84 L139.61 482.28 L145.51 481.05 L151.41 480.05 L157.31 478.97 L163.2 478.38 L169.1 477.06 L175 476.12" fill="none" stroke="#9fd4b0" stroke-width="1" stroke-linejoin="round" stroke-linecap="round"/>
<path d="M33.45 545.89 L39.35 544.17 L45.25 531.79 L51.14 510.89 L57.04 502.84 L62.94 499.66 L68.84 497.42 L74.74 495.33 L80.63 493.87 L86.53 492.18 L92.43 491.44 L98.33 490.09 L104.23 488.98 L110.12 488.16 L116.02 486.67 L121.92 485.98 L127.82 484.54 L133.71 483.89 L139.61 482.91 L145.51 481.66 L151.41 480.03 L157.31 479.68 L163.2 478.63 L169.1 477.31 L175 476.25" fill="none" stroke="#3b8c66" stroke-width="1" stroke-linejoin="round" stroke-linecap="round"/>
<path d="M33.45 545.89 L39.35 542.45 L45.25 528.35 L51.14 508.67 L57.04 501.84 L62.94 498.33 L68.84 495.76 L74.74 493.19 L80.63 491.25 L86.53 489.7 L92.43 488.16 L98.33 486.92 L104.23 485.38 L110.12 484.15 L116.02 482.91 L121.92 481.7 L127.82 480.48 L133.71 479.58 L139.61 478.68 L145.51 477.77 L151.41 476.56 L157.31 475.66 L163.2 474.75 L169.1 473.85 L175 473.14" fill="none" stroke="#5b8fbd" stroke-width="1" stroke-linejoin="round" stroke-linecap="round"/>
<path d="M33.45 545.27 L39.35 542.76 L45.25 529.6 L51.14 509.55 L57.04 502.34 L62.94 498.89 L68.84 496.39 L74.74 493.88 L80.63 492 L86.53 490.43 L92.43 488.87 L98.33 487.61 L104.23 486.05 L110.12 484.79 L116.02 483.54 L121.92 482.29 L127.82 481.03 L133.71 480.09 L139.61 479.15 L145.51 478.21 L151.41 476.96 L157.31 476.02 L163.2 475.08 L169.1 474.14 L175 473.39" fill="none" stroke="#000" stroke-width="1" stroke-linejoin="round" stroke-linecap="round"/>
<line x1="45.25" y1="528.22" x2="45.25" y2="530.98" stroke="#000" stroke-width="0.8"/>
<line x1="45.25" y1="528.22" x2="45.25" y2="528.22" stroke="#000" stroke-width="0.8"/>
<line x1="45.25" y1="530.98" x2="45.25" y2="530.98" stroke="#000" stroke-width="0.8"/>
<line x1="80.63" y1="490.62" x2="80.63" y2="493.38" stroke="#000" stroke-width="0.8"/>
<line x1="80.63" y1="490.62" x2="80.63" y2="490.62" stroke="#000" stroke-width="0.8"/>
<line x1="80.63" y1="493.38" x2="80.63" y2="493.38" stroke="#000" stroke-width="0.8"/>
<line x1="86.53" y1="489.05" x2="86.53" y2="491.81" stroke="#000" stroke-width="0.8"/>
<line x1="86.53" y1="489.05" x2="86.53" y2="489.05" stroke="#000" stroke-width="0.8"/>
<line x1="86.53" y1="491.81" x2="86.53" y2="491.81" stroke="#000" stroke-width="0.8"/>
<line x1="92.43" y1="487.49" x2="92.43" y2="490.25" stroke="#000" stroke-width="0.8"/>
<line x1="92.43" y1="487.49" x2="92.43" y2="487.49" stroke="#000" stroke-width="0.8"/>
<line x1="92.43" y1="490.25" x2="92.43" y2="490.25" stroke="#000" stroke-width="0.8"/>
<line x1="98.33" y1="486.23" x2="98.33" y2="488.99" stroke="#000" stroke-width="0.8"/>
<line x1="98.33" y1="486.23" x2="98.33" y2="486.23" stroke="#000" stroke-width="0.8"/>
<line x1="98.33" y1="488.99" x2="98.33" y2="488.99" stroke="#000" stroke-width="0.8"/>
<line x1="104.23" y1="484.67" x2="104.23" y2="487.43" stroke="#000" stroke-width="0.8"/>
<line x1="104.23" y1="484.67" x2="104.23" y2="484.67" stroke="#000" stroke-width="0.8"/>
<line x1="104.23" y1="487.43" x2="104.23" y2="487.43" stroke="#000" stroke-width="0.8"/>
<line x1="110.12" y1="483.41" x2="110.12" y2="486.17" stroke="#000" stroke-width="0.8"/>
<line x1="110.12" y1="483.41" x2="110.12" y2="483.41" stroke="#000" stroke-width="0.8"/>
<line x1="110.12" y1="486.17" x2="110.12" y2="486.17" stroke="#000" stroke-width="0.8"/>
<line x1="116.02" y1="482.16" x2="116.02" y2="484.92" stroke="#000" stroke-width="0.8"/>
<line x1="116.02" y1="482.16" x2="116.02" y2="482.16" stroke="#000" stroke-width="0.8"/>
<line x1="116.02" y1="484.92" x2="116.02" y2="484.92" stroke="#000" stroke-width="0.8"/>
<line x1="33.45" y1="453.85" x2="33.45" y2="548.95" stroke="#000" stroke-width="1.15"/>
<line x1="32.9" y1="548.4" x2="175.55" y2="548.4" stroke="#000" stroke-width="1.15"/>
<line x1="29.25" y1="454.4" x2="33.45" y2="454.4" stroke="#000" stroke-width="1.1"/>
<text x="28.45" y="457.7" font-size="8" font-weight="bold" font-style="normal" text-anchor="end" fill="#000">1.5</text>
<line x1="29.25" y1="485.75" x2="33.45" y2="485.75" stroke="#000" stroke-width="1.1"/>
<text x="28.45" y="489.05" font-size="8" font-weight="bold" font-style="normal" text-anchor="end" fill="#000">1.0</text>
<line x1="29.25" y1="517.1" x2="33.45" y2="517.1" stroke="#000" stroke-width="1.1"/>
<text x="28.45" y="520.4" font-size="8" font-weight="bold" font-style="normal" text-anchor="end" fill="#000">0.5</text>
<line x1="29.25" y1="548.4" x2="33.45" y2="548.4" stroke="#000" stroke-width="1.1"/>
<text x="28.45" y="551.7" font-size="8" font-weight="bold" font-style="normal" text-anchor="end" fill="#000">0.0</text>
<line x1="33.45" y1="548.4" x2="33.45" y2="552.7" stroke="#000" stroke-width="1.1"/>
<text x="33.45" y="561.6" font-size="8" font-weight="bold" font-style="normal" text-anchor="middle" fill="#000">0</text>
<line x1="56.95" y1="548.4" x2="56.95" y2="552.7" stroke="#000" stroke-width="1.1"/>
<text x="56.95" y="561.6" font-size="8" font-weight="bold" font-style="normal" text-anchor="middle" fill="#000">4</text>
<line x1="80.5" y1="548.4" x2="80.5" y2="552.7" stroke="#000" stroke-width="1.1"/>
<text x="80.5" y="561.6" font-size="8" font-weight="bold" font-style="normal" text-anchor="middle" fill="#000">8</text>
<line x1="104.1" y1="548.4" x2="104.1" y2="552.7" stroke="#000" stroke-width="1.1"/>
<text x="104.1" y="561.6" font-size="8" font-weight="bold" font-style="normal" text-anchor="middle" fill="#000">12</text>
<line x1="127.7" y1="548.4" x2="127.7" y2="552.7" stroke="#000" stroke-width="1.1"/>
<text x="127.7" y="561.6" font-size="8" font-weight="bold" font-style="normal" text-anchor="middle" fill="#000">16</text>
<line x1="151.3" y1="548.4" x2="151.3" y2="552.7" stroke="#000" stroke-width="1.1"/>
<text x="151.3" y="561.6" font-size="8" font-weight="bold" font-style="normal" text-anchor="middle" fill="#000">20</text>
<line x1="175" y1="548.4" x2="175" y2="552.7" stroke="#000" stroke-width="1.1"/>
<text x="175" y="561.6" font-size="8" font-weight="bold" font-style="normal" text-anchor="middle" fill="#000">24</text>
<text x="104.62" y="574.2" font-size="9.1" font-weight="bold" font-style="normal" text-anchor="middle" fill="#000">Time (h)</text>
<text x="11.5" y="500.8" font-size="9.8" font-weight="bold" text-anchor="middle" transform="rotate(-90 11.5 500.8)">OD<tspan font-size="6.5" dy="1.6" stroke="#000" stroke-width="0.2">600</tspan></text>
<line x1="196.2" y1="460.7" x2="206.2" y2="460.7" stroke="#000" stroke-width="1.2"/>
<text x="212.1" y="463.6" font-size="7.92" font-weight="normal" font-style="normal" text-anchor="start" fill="#111">WT</text>
<line x1="196.2" y1="473.3" x2="206.2" y2="473.3" stroke="#5b8fbd" stroke-width="1"/>
<text x="212.1" y="476.2" font-size="7.92" font-weight="normal" font-style="normal" text-anchor="start" fill="#111">Δ<tspan font-style="italic">cueO</tspan></text>
<line x1="196.2" y1="485.8" x2="206.2" y2="485.8" stroke="#9fd4b0" stroke-width="1"/>
<text x="212.1" y="488.7" font-size="7.92" font-weight="normal" font-style="normal" text-anchor="start" fill="#111">Δ<tspan font-style="italic">copA</tspan></text>
<line x1="196.2" y1="498.3" x2="206.2" y2="498.3" stroke="#3b8c66" stroke-width="1"/>
<text x="212.1" y="501.2" font-size="7.92" font-weight="normal" font-style="normal" text-anchor="start" fill="#111">Δ<tspan font-style="italic">cueO</tspan> Δ<tspan font-style="italic">copA</tspan></text>
<path d="M237.8 456.7 H242.5 V486.4 H237.8" fill="none" stroke="#111" stroke-width="1.0"/>
<text x="244.3" y="474.5" font-size="7.3" font-weight="normal" font-style="normal" text-anchor="start" fill="#000" stroke="#000" stroke-width="0.12">*</text>
<path d="M265.2 456.7 H269.5 V498.3 H265.2" fill="none" stroke="#111" stroke-width="1.0"/>
<text x="271.6" y="478.8" font-size="7.3" font-weight="normal" font-style="normal" text-anchor="start" fill="#000" stroke="#000" stroke-width="0.12">*</text>
<path d="M33.45 696.12 L39.35 695.8 L45.25 684.81 L51.14 661.58 L57.04 651.84 L62.94 648.7 L68.84 646.5 L74.74 644.24 L80.63 642.61 L86.53 641.17 L92.43 639.69 L98.33 638.69 L104.23 637.19 L110.12 636.06 L116.02 634.28 L121.92 632.47 L127.82 631.04 L133.71 629.96 L139.61 629.4 L145.51 628.26 L151.41 627.1 L157.31 625.99 L163.2 625.02 L169.1 624.34 L175 623.47" fill="none" stroke="#d6cbe9" stroke-width="0.95" stroke-linejoin="round" stroke-linecap="round"/>
<path d="M33.45 695.49 L39.35 693.6 L45.25 685.44 L51.14 662.83 L57.04 650.59 L62.94 647.38 L68.84 645.12 L74.74 642.74 L80.63 640.98 L86.53 639.53 L92.43 638.09 L98.33 636.87 L104.23 635.33 L110.12 634.11 L116.02 632.89 L121.92 631.67 L127.82 630.45 L133.71 629.55 L139.61 628.64 L145.51 627.74 L151.41 626.52 L157.31 625.61 L163.2 624.7 L169.1 623.8 L175 623.08" fill="none" stroke="#6a51a8" stroke-width="0.95" stroke-linejoin="round" stroke-linecap="round"/>
<path d="M33.45 695.49 L39.35 693.6 L45.25 681.04 L51.14 659.38 L57.04 650.59 L62.94 647.29 L68.84 644.93 L74.74 642.53 L80.63 640.76 L86.53 639.3 L92.43 637.84 L98.33 636.62 L104.23 635.08 L110.12 633.86 L116.02 632.64 L121.92 631.42 L127.82 630.2 L133.71 629.3 L139.61 628.39 L145.51 627.48 L151.41 626.26 L157.31 625.36 L163.2 624.45 L169.1 623.55 L175 622.83" fill="none" stroke="#5b8fbd" stroke-width="0.95" stroke-linejoin="round" stroke-linecap="round"/>
<path d="M33.45 694.86 L39.35 692.35 L45.25 679.16 L51.14 659.06 L57.04 651.84 L62.94 648.39 L68.84 645.88 L74.74 643.36 L80.63 641.48 L86.53 639.91 L92.43 638.34 L98.33 637.08 L104.23 635.51 L110.12 634.26 L116.02 633 L121.92 631.75 L127.82 630.49 L133.71 629.55 L139.61 628.61 L145.51 627.66 L151.41 626.41 L157.31 625.47 L163.2 624.52 L169.1 623.58 L175 622.83" fill="none" stroke="#000" stroke-width="1" stroke-linejoin="round" stroke-linecap="round"/>
<line x1="45.25" y1="677.78" x2="45.25" y2="680.54" stroke="#000" stroke-width="0.8"/>
<line x1="45.25" y1="677.78" x2="45.25" y2="677.78" stroke="#000" stroke-width="0.8"/>
<line x1="45.25" y1="680.54" x2="45.25" y2="680.54" stroke="#000" stroke-width="0.8"/>
<line x1="80.63" y1="640.1" x2="80.63" y2="642.86" stroke="#000" stroke-width="0.8"/>
<line x1="80.63" y1="640.1" x2="80.63" y2="640.1" stroke="#000" stroke-width="0.8"/>
<line x1="80.63" y1="642.86" x2="80.63" y2="642.86" stroke="#000" stroke-width="0.8"/>
<line x1="86.53" y1="638.53" x2="86.53" y2="641.29" stroke="#000" stroke-width="0.8"/>
<line x1="86.53" y1="638.53" x2="86.53" y2="638.53" stroke="#000" stroke-width="0.8"/>
<line x1="86.53" y1="641.29" x2="86.53" y2="641.29" stroke="#000" stroke-width="0.8"/>
<line x1="92.43" y1="636.96" x2="92.43" y2="639.72" stroke="#000" stroke-width="0.8"/>
<line x1="92.43" y1="636.96" x2="92.43" y2="636.96" stroke="#000" stroke-width="0.8"/>
<line x1="92.43" y1="639.72" x2="92.43" y2="639.72" stroke="#000" stroke-width="0.8"/>
<line x1="98.33" y1="635.7" x2="98.33" y2="638.47" stroke="#000" stroke-width="0.8"/>
<line x1="98.33" y1="635.7" x2="98.33" y2="635.7" stroke="#000" stroke-width="0.8"/>
<line x1="98.33" y1="638.47" x2="98.33" y2="638.47" stroke="#000" stroke-width="0.8"/>
<line x1="104.23" y1="634.13" x2="104.23" y2="636.9" stroke="#000" stroke-width="0.8"/>
<line x1="104.23" y1="634.13" x2="104.23" y2="634.13" stroke="#000" stroke-width="0.8"/>
<line x1="104.23" y1="636.9" x2="104.23" y2="636.9" stroke="#000" stroke-width="0.8"/>
<line x1="110.12" y1="632.88" x2="110.12" y2="635.64" stroke="#000" stroke-width="0.8"/>
<line x1="110.12" y1="632.88" x2="110.12" y2="632.88" stroke="#000" stroke-width="0.8"/>
<line x1="110.12" y1="635.64" x2="110.12" y2="635.64" stroke="#000" stroke-width="0.8"/>
<line x1="116.02" y1="631.62" x2="116.02" y2="634.38" stroke="#000" stroke-width="0.8"/>
<line x1="116.02" y1="631.62" x2="116.02" y2="631.62" stroke="#000" stroke-width="0.8"/>
<line x1="116.02" y1="634.38" x2="116.02" y2="634.38" stroke="#000" stroke-width="0.8"/>
<line x1="33.45" y1="603.25" x2="33.45" y2="698.55" stroke="#000" stroke-width="1.15"/>
<line x1="32.9" y1="698" x2="175.55" y2="698" stroke="#000" stroke-width="1.15"/>
<line x1="29.25" y1="603.8" x2="33.45" y2="603.8" stroke="#000" stroke-width="1.1"/>
<text x="28.45" y="607.1" font-size="8" font-weight="bold" font-style="normal" text-anchor="end" fill="#000">1.5</text>
<line x1="29.25" y1="635.2" x2="33.45" y2="635.2" stroke="#000" stroke-width="1.1"/>
<text x="28.45" y="638.5" font-size="8" font-weight="bold" font-style="normal" text-anchor="end" fill="#000">1.0</text>
<line x1="29.25" y1="666.6" x2="33.45" y2="666.6" stroke="#000" stroke-width="1.1"/>
<text x="28.45" y="669.9" font-size="8" font-weight="bold" font-style="normal" text-anchor="end" fill="#000">0.5</text>
<line x1="29.25" y1="698" x2="33.45" y2="698" stroke="#000" stroke-width="1.1"/>
<text x="28.45" y="701.3" font-size="8" font-weight="bold" font-style="normal" text-anchor="end" fill="#000">0.0</text>
<line x1="33.45" y1="698" x2="33.45" y2="702.3" stroke="#000" stroke-width="1.1"/>
<text x="33.45" y="711.2" font-size="8" font-weight="bold" font-style="normal" text-anchor="middle" fill="#000">0</text>
<line x1="56.95" y1="698" x2="56.95" y2="702.3" stroke="#000" stroke-width="1.1"/>
<text x="56.95" y="711.2" font-size="8" font-weight="bold" font-style="normal" text-anchor="middle" fill="#000">4</text>
<line x1="80.5" y1="698" x2="80.5" y2="702.3" stroke="#000" stroke-width="1.1"/>
<text x="80.5" y="711.2" font-size="8" font-weight="bold" font-style="normal" text-anchor="middle" fill="#000">8</text>
<line x1="104.1" y1="698" x2="104.1" y2="702.3" stroke="#000" stroke-width="1.1"/>
<text x="104.1" y="711.2" font-size="8" font-weight="bold" font-style="normal" text-anchor="middle" fill="#000">12</text>
<line x1="127.7" y1="698" x2="127.7" y2="702.3" stroke="#000" stroke-width="1.1"/>
<text x="127.7" y="711.2" font-size="8" font-weight="bold" font-style="normal" text-anchor="middle" fill="#000">16</text>
<line x1="151.3" y1="698" x2="151.3" y2="702.3" stroke="#000" stroke-width="1.1"/>
<text x="151.3" y="711.2" font-size="8" font-weight="bold" font-style="normal" text-anchor="middle" fill="#000">20</text>
<line x1="175" y1="698" x2="175" y2="702.3" stroke="#000" stroke-width="1.1"/>
<text x="175" y="711.2" font-size="8" font-weight="bold" font-style="normal" text-anchor="middle" fill="#000">24</text>
<text x="104.62" y="723.8" font-size="9.1" font-weight="bold" font-style="normal" text-anchor="middle" fill="#000">Time (h)</text>
<text x="11.5" y="649.9" font-size="9.8" font-weight="bold" text-anchor="middle" transform="rotate(-90 11.5 649.9)">OD<tspan font-size="6.5" dy="1.6" stroke="#000" stroke-width="0.2">600</tspan></text>
<line x1="196.2" y1="610.2" x2="206.2" y2="610.2" stroke="#222" stroke-width="1.4"/>
<text x="212.1" y="613.1" font-size="7.92" font-weight="normal" font-style="normal" text-anchor="start" fill="#111">WT</text>
<line x1="196.2" y1="622.8" x2="206.2" y2="622.8" stroke="#5b8fbd" stroke-width="1"/>
<text x="212.1" y="625.7" font-size="7.92" font-weight="normal" font-style="normal" text-anchor="start" fill="#111">Δ<tspan font-style="italic">cueO</tspan></text>
<line x1="196.2" y1="635.3" x2="206.2" y2="635.3" stroke="#d6cbe9" stroke-width="1"/>
<text x="212.1" y="638.2" font-size="7.92" font-weight="normal" font-style="normal" text-anchor="start" fill="#111">Δ<tspan font-style="italic">cusRS</tspan></text>
<line x1="196.2" y1="648" x2="206.2" y2="648" stroke="#6a51a8" stroke-width="1"/>
<text x="212.1" y="650.9" font-size="7.92" font-weight="normal" font-style="normal" text-anchor="start" fill="#111">Δ<tspan font-style="italic">cueO</tspan> Δ<tspan font-style="italic">cusRS</tspan></text>
<path d="M31.75 845.96 L37.66 844.39 L43.56 837.49 L49.47 817.42 L55.38 806.44 L61.28 802.05 L67.19 798.6 L73.09 795.77 L79 793.58 L84.91 792.01 L90.81 790.44 L96.72 789.19 L102.62 787.62 L108.53 786.31 L114.44 785 L120.34 783.7 L126.25 782.39 L132.16 781.4 L138.06 780.4 L143.97 779.41 L149.88 778.1 L155.78 777.11 L161.69 776.12 L167.59 775.12 L173.5 774.32" fill="none" stroke="#e39482" stroke-width="0.95" stroke-linejoin="round" stroke-linecap="round"/>
<path d="M31.75 846.27 L37.66 845.02 L43.56 838.74 L49.47 819.92 L55.38 808.01 L61.28 803.46 L67.19 799.85 L73.09 796.87 L79 794.52 L84.91 792.95 L90.81 791.38 L96.72 790.13 L102.62 788.56 L108.53 787.62 L114.44 786.68 L120.34 785.74 L126.25 784.79 L132.16 783.89 L138.06 782.99 L143.97 782.09 L149.88 780.87 L155.78 779.97 L161.69 779.07 L167.59 778.17 L173.5 777.45" fill="none" stroke="#e5545f" stroke-width="0.95" stroke-linejoin="round" stroke-linecap="round"/>
<path d="M31.75 844.39 L37.66 842.19 L43.56 829.33 L49.47 808.44 L55.38 800.41 L61.28 796.87 L67.19 794.27 L73.09 791.66 L79 789.69 L84.91 788.16 L90.81 786.63 L96.72 785.42 L102.62 783.89 L108.53 782.68 L114.44 781.47 L120.34 780.28 L126.25 779.09 L132.16 778.21 L138.06 777.33 L143.97 776.45 L149.88 775.26 L155.78 774.38 L161.69 773.5 L167.59 772.62 L173.5 771.93" fill="none" stroke="#5b8fbd" stroke-width="0.95" stroke-linejoin="round" stroke-linecap="round"/>
<path d="M31.75 843.76 L37.66 841.25 L43.56 828.08 L49.47 808.01 L55.38 800.79 L61.28 797.34 L67.19 794.83 L73.09 792.32 L79 790.44 L84.91 788.87 L90.81 787.3 L96.72 786.05 L102.62 784.48 L108.53 783.23 L114.44 781.97 L120.34 780.72 L126.25 779.46 L132.16 778.52 L138.06 777.58 L143.97 776.64 L149.88 775.38 L155.78 774.44 L161.69 773.5 L167.59 772.56 L173.5 771.81" fill="none" stroke="#000" stroke-width="1" stroke-linejoin="round" stroke-linecap="round"/>
<line x1="43.56" y1="826.7" x2="43.56" y2="829.46" stroke="#000" stroke-width="0.8"/>
<line x1="43.56" y1="826.7" x2="43.56" y2="826.7" stroke="#000" stroke-width="0.8"/>
<line x1="43.56" y1="829.46" x2="43.56" y2="829.46" stroke="#000" stroke-width="0.8"/>
<line x1="79" y1="789.06" x2="79" y2="791.82" stroke="#000" stroke-width="0.8"/>
<line x1="79" y1="789.06" x2="79" y2="789.06" stroke="#000" stroke-width="0.8"/>
<line x1="79" y1="791.82" x2="79" y2="791.82" stroke="#000" stroke-width="0.8"/>
<line x1="84.91" y1="787.49" x2="84.91" y2="790.25" stroke="#000" stroke-width="0.8"/>
<line x1="84.91" y1="787.49" x2="84.91" y2="787.49" stroke="#000" stroke-width="0.8"/>
<line x1="84.91" y1="790.25" x2="84.91" y2="790.25" stroke="#000" stroke-width="0.8"/>
<line x1="90.81" y1="785.92" x2="90.81" y2="788.68" stroke="#000" stroke-width="0.8"/>
<line x1="90.81" y1="785.92" x2="90.81" y2="785.92" stroke="#000" stroke-width="0.8"/>
<line x1="90.81" y1="788.68" x2="90.81" y2="788.68" stroke="#000" stroke-width="0.8"/>
<line x1="96.72" y1="784.67" x2="96.72" y2="787.43" stroke="#000" stroke-width="0.8"/>
<line x1="96.72" y1="784.67" x2="96.72" y2="784.67" stroke="#000" stroke-width="0.8"/>
<line x1="96.72" y1="787.43" x2="96.72" y2="787.43" stroke="#000" stroke-width="0.8"/>
<line x1="102.62" y1="783.1" x2="102.62" y2="785.86" stroke="#000" stroke-width="0.8"/>
<line x1="102.62" y1="783.1" x2="102.62" y2="783.1" stroke="#000" stroke-width="0.8"/>
<line x1="102.62" y1="785.86" x2="102.62" y2="785.86" stroke="#000" stroke-width="0.8"/>
<line x1="108.53" y1="781.85" x2="108.53" y2="784.61" stroke="#000" stroke-width="0.8"/>
<line x1="108.53" y1="781.85" x2="108.53" y2="781.85" stroke="#000" stroke-width="0.8"/>
<line x1="108.53" y1="784.61" x2="108.53" y2="784.61" stroke="#000" stroke-width="0.8"/>
<line x1="114.44" y1="780.59" x2="114.44" y2="783.35" stroke="#000" stroke-width="0.8"/>
<line x1="114.44" y1="780.59" x2="114.44" y2="780.59" stroke="#000" stroke-width="0.8"/>
<line x1="114.44" y1="783.35" x2="114.44" y2="783.35" stroke="#000" stroke-width="0.8"/>
<line x1="31.75" y1="752.25" x2="31.75" y2="847.45" stroke="#000" stroke-width="1.15"/>
<line x1="31.2" y1="846.9" x2="174.05" y2="846.9" stroke="#000" stroke-width="1.15"/>
<line x1="27.55" y1="752.8" x2="31.75" y2="752.8" stroke="#000" stroke-width="1.1"/>
<text x="26.75" y="756.1" font-size="8" font-weight="bold" font-style="normal" text-anchor="end" fill="#000">1.5</text>
<line x1="27.55" y1="784.15" x2="31.75" y2="784.15" stroke="#000" stroke-width="1.1"/>
<text x="26.75" y="787.45" font-size="8" font-weight="bold" font-style="normal" text-anchor="end" fill="#000">1.0</text>
<line x1="27.55" y1="815.5" x2="31.75" y2="815.5" stroke="#000" stroke-width="1.1"/>
<text x="26.75" y="818.8" font-size="8" font-weight="bold" font-style="normal" text-anchor="end" fill="#000">0.5</text>
<line x1="27.55" y1="846.9" x2="31.75" y2="846.9" stroke="#000" stroke-width="1.1"/>
<text x="26.75" y="850.2" font-size="8" font-weight="bold" font-style="normal" text-anchor="end" fill="#000">0.0</text>
<line x1="31.75" y1="846.9" x2="31.75" y2="851.2" stroke="#000" stroke-width="1.1"/>
<text x="31.75" y="860.1" font-size="8" font-weight="bold" font-style="normal" text-anchor="middle" fill="#000">0</text>
<line x1="55.3" y1="846.9" x2="55.3" y2="851.2" stroke="#000" stroke-width="1.1"/>
<text x="55.3" y="860.1" font-size="8" font-weight="bold" font-style="normal" text-anchor="middle" fill="#000">4</text>
<line x1="78.9" y1="846.9" x2="78.9" y2="851.2" stroke="#000" stroke-width="1.1"/>
<text x="78.9" y="860.1" font-size="8" font-weight="bold" font-style="normal" text-anchor="middle" fill="#000">8</text>
<line x1="102.5" y1="846.9" x2="102.5" y2="851.2" stroke="#000" stroke-width="1.1"/>
<text x="102.5" y="860.1" font-size="8" font-weight="bold" font-style="normal" text-anchor="middle" fill="#000">12</text>
<line x1="126.2" y1="846.9" x2="126.2" y2="851.2" stroke="#000" stroke-width="1.1"/>
<text x="126.2" y="860.1" font-size="8" font-weight="bold" font-style="normal" text-anchor="middle" fill="#000">16</text>
<line x1="149.8" y1="846.9" x2="149.8" y2="851.2" stroke="#000" stroke-width="1.1"/>
<text x="149.8" y="860.1" font-size="8" font-weight="bold" font-style="normal" text-anchor="middle" fill="#000">20</text>
<line x1="173.5" y1="846.9" x2="173.5" y2="851.2" stroke="#000" stroke-width="1.1"/>
<text x="173.5" y="860.1" font-size="8" font-weight="bold" font-style="normal" text-anchor="middle" fill="#000">24</text>
<text x="103.03" y="872.7" font-size="9.1" font-weight="bold" font-style="normal" text-anchor="middle" fill="#000">Time (h)</text>
<text x="10.1" y="798.9" font-size="9.8" font-weight="bold" text-anchor="middle" transform="rotate(-90 10.1 798.9)">OD<tspan font-size="6.5" dy="1.6" stroke="#000" stroke-width="0.2">600</tspan></text>
<line x1="194.8" y1="758.8" x2="204.7" y2="758.8" stroke="#222" stroke-width="1.2"/>
<text x="210.5" y="761.7" font-size="7.92" font-weight="normal" font-style="normal" text-anchor="start" fill="#111">WT</text>
<line x1="194.8" y1="771.4" x2="204.7" y2="771.4" stroke="#5b8fbd" stroke-width="1"/>
<text x="210.5" y="774.3" font-size="7.92" font-weight="normal" font-style="normal" text-anchor="start" fill="#111">Δ<tspan font-style="italic">cueO</tspan></text>
<line x1="194.8" y1="784.2" x2="204.7" y2="784.2" stroke="#e39482" stroke-width="1"/>
<text x="210.5" y="787.1" font-size="7.92" font-weight="normal" font-style="normal" text-anchor="start" fill="#111">Δ<tspan font-style="italic">sodA</tspan> Δ<tspan font-style="italic">sodB</tspan> Δ<tspan font-style="italic">sodC</tspan></text>
<line x1="194.8" y1="796.9" x2="204.7" y2="796.9" stroke="#e5545f" stroke-width="1"/>
<text x="210.5" y="799.8" font-size="7.92" font-weight="normal" font-style="normal" text-anchor="start" fill="#111">Δ<tspan font-style="italic">cueO</tspan> Δ<tspan font-style="italic">sodA</tspan> Δ<tspan font-style="italic">sodB</tspan> Δ<tspan font-style="italic">sodC</tspan></text>
<path d="M287.4 753.6 H292.1 V785.4 H287.4" fill="none" stroke="#111" stroke-width="1.0"/>
<text x="293.4" y="774.7" font-size="7.3" font-weight="normal" font-style="normal" text-anchor="start" fill="#000" stroke="#000" stroke-width="0.12">****</text>
<path d="M313.3 753.6 H317.5 V796.9 H313.3" fill="none" stroke="#111" stroke-width="1.0"/>
<text x="319.6" y="777.5" font-size="7.3" font-weight="normal" font-style="normal" text-anchor="start" fill="#000" stroke="#000" stroke-width="0.12">**</text>
<path d="M382.5 548.73 L394.32 547.48 L406.15 541.82 L417.98 512.25 L429.8 500.93 L441.62 496.53 L453.45 492.75 L465.27 489.61 L477.1 487.09 L488.93 484.58 L500.75 482.37 L512.57 480.49 L524.4 478.91" fill="none" stroke="#9fd4b0" stroke-width="1.3" stroke-linejoin="round" stroke-linecap="round"/>
<line x1="382.5" y1="547.98" x2="382.5" y2="549.49" stroke="#9fd4b0" stroke-width="0.8"/>
<line x1="380.8" y1="547.98" x2="384.2" y2="547.98" stroke="#9fd4b0" stroke-width="0.8"/>
<line x1="380.8" y1="549.49" x2="384.2" y2="549.49" stroke="#9fd4b0" stroke-width="0.8"/>
<line x1="394.32" y1="546.72" x2="394.32" y2="548.23" stroke="#9fd4b0" stroke-width="0.8"/>
<line x1="392.62" y1="546.72" x2="396.02" y2="546.72" stroke="#9fd4b0" stroke-width="0.8"/>
<line x1="392.62" y1="548.23" x2="396.02" y2="548.23" stroke="#9fd4b0" stroke-width="0.8"/>
<line x1="406.15" y1="538.67" x2="406.15" y2="544.96" stroke="#9fd4b0" stroke-width="0.8"/>
<line x1="404.45" y1="538.67" x2="407.85" y2="538.67" stroke="#9fd4b0" stroke-width="0.8"/>
<line x1="404.45" y1="544.96" x2="407.85" y2="544.96" stroke="#9fd4b0" stroke-width="0.8"/>
<line x1="417.98" y1="509.74" x2="417.98" y2="514.77" stroke="#9fd4b0" stroke-width="0.8"/>
<line x1="416.28" y1="509.74" x2="419.68" y2="509.74" stroke="#9fd4b0" stroke-width="0.8"/>
<line x1="416.28" y1="514.77" x2="419.68" y2="514.77" stroke="#9fd4b0" stroke-width="0.8"/>
<line x1="429.8" y1="499.04" x2="429.8" y2="502.82" stroke="#9fd4b0" stroke-width="0.8"/>
<line x1="428.1" y1="499.04" x2="431.5" y2="499.04" stroke="#9fd4b0" stroke-width="0.8"/>
<line x1="428.1" y1="502.82" x2="431.5" y2="502.82" stroke="#9fd4b0" stroke-width="0.8"/>
<line x1="441.62" y1="495.77" x2="441.62" y2="497.28" stroke="#9fd4b0" stroke-width="0.8"/>
<line x1="439.93" y1="495.77" x2="443.32" y2="495.77" stroke="#9fd4b0" stroke-width="0.8"/>
<line x1="439.93" y1="497.28" x2="443.32" y2="497.28" stroke="#9fd4b0" stroke-width="0.8"/>
<line x1="453.45" y1="492" x2="453.45" y2="493.51" stroke="#9fd4b0" stroke-width="0.8"/>
<line x1="451.75" y1="492" x2="455.15" y2="492" stroke="#9fd4b0" stroke-width="0.8"/>
<line x1="451.75" y1="493.51" x2="455.15" y2="493.51" stroke="#9fd4b0" stroke-width="0.8"/>
<line x1="465.27" y1="488.85" x2="465.27" y2="490.36" stroke="#9fd4b0" stroke-width="0.8"/>
<line x1="463.57" y1="488.85" x2="466.97" y2="488.85" stroke="#9fd4b0" stroke-width="0.8"/>
<line x1="463.57" y1="490.36" x2="466.97" y2="490.36" stroke="#9fd4b0" stroke-width="0.8"/>
<line x1="477.1" y1="486.34" x2="477.1" y2="487.85" stroke="#9fd4b0" stroke-width="0.8"/>
<line x1="475.4" y1="486.34" x2="478.8" y2="486.34" stroke="#9fd4b0" stroke-width="0.8"/>
<line x1="475.4" y1="487.85" x2="478.8" y2="487.85" stroke="#9fd4b0" stroke-width="0.8"/>
<line x1="488.93" y1="483.82" x2="488.93" y2="485.33" stroke="#9fd4b0" stroke-width="0.8"/>
<line x1="487.23" y1="483.82" x2="490.62" y2="483.82" stroke="#9fd4b0" stroke-width="0.8"/>
<line x1="487.23" y1="485.33" x2="490.62" y2="485.33" stroke="#9fd4b0" stroke-width="0.8"/>
<line x1="500.75" y1="481.62" x2="500.75" y2="483.13" stroke="#9fd4b0" stroke-width="0.8"/>
<line x1="499.05" y1="481.62" x2="502.45" y2="481.62" stroke="#9fd4b0" stroke-width="0.8"/>
<line x1="499.05" y1="483.13" x2="502.45" y2="483.13" stroke="#9fd4b0" stroke-width="0.8"/>
<line x1="512.57" y1="479.73" x2="512.57" y2="481.24" stroke="#9fd4b0" stroke-width="0.8"/>
<line x1="510.87" y1="479.73" x2="514.27" y2="479.73" stroke="#9fd4b0" stroke-width="0.8"/>
<line x1="510.87" y1="481.24" x2="514.27" y2="481.24" stroke="#9fd4b0" stroke-width="0.8"/>
<line x1="524.4" y1="478.16" x2="524.4" y2="479.67" stroke="#9fd4b0" stroke-width="0.8"/>
<line x1="522.7" y1="478.16" x2="526.1" y2="478.16" stroke="#9fd4b0" stroke-width="0.8"/>
<line x1="522.7" y1="479.67" x2="526.1" y2="479.67" stroke="#9fd4b0" stroke-width="0.8"/>
<path d="M382.5 548.73 L394.32 547.79 L406.15 544.96 L417.98 518.54 L429.8 502.5 L441.62 497.78 L453.45 494.95 L465.27 492.44 L477.1 490.24 L488.93 488.35 L500.75 486.46 L512.57 484.58 L524.4 483" fill="none" stroke="#3b8c66" stroke-width="1.3" stroke-linejoin="round" stroke-linecap="round"/>
<line x1="382.5" y1="547.98" x2="382.5" y2="549.49" stroke="#3b8c66" stroke-width="0.8"/>
<line x1="380.8" y1="547.98" x2="384.2" y2="547.98" stroke="#3b8c66" stroke-width="0.8"/>
<line x1="380.8" y1="549.49" x2="384.2" y2="549.49" stroke="#3b8c66" stroke-width="0.8"/>
<line x1="394.32" y1="547.04" x2="394.32" y2="548.55" stroke="#3b8c66" stroke-width="0.8"/>
<line x1="392.62" y1="547.04" x2="396.02" y2="547.04" stroke="#3b8c66" stroke-width="0.8"/>
<line x1="392.62" y1="548.55" x2="396.02" y2="548.55" stroke="#3b8c66" stroke-width="0.8"/>
<line x1="406.15" y1="543.7" x2="406.15" y2="546.22" stroke="#3b8c66" stroke-width="0.8"/>
<line x1="404.45" y1="543.7" x2="407.85" y2="543.7" stroke="#3b8c66" stroke-width="0.8"/>
<line x1="404.45" y1="546.22" x2="407.85" y2="546.22" stroke="#3b8c66" stroke-width="0.8"/>
<line x1="417.98" y1="516.65" x2="417.98" y2="520.43" stroke="#3b8c66" stroke-width="0.8"/>
<line x1="416.28" y1="516.65" x2="419.68" y2="516.65" stroke="#3b8c66" stroke-width="0.8"/>
<line x1="416.28" y1="520.43" x2="419.68" y2="520.43" stroke="#3b8c66" stroke-width="0.8"/>
<line x1="429.8" y1="501.24" x2="429.8" y2="503.76" stroke="#3b8c66" stroke-width="0.8"/>
<line x1="428.1" y1="501.24" x2="431.5" y2="501.24" stroke="#3b8c66" stroke-width="0.8"/>
<line x1="428.1" y1="503.76" x2="431.5" y2="503.76" stroke="#3b8c66" stroke-width="0.8"/>
<line x1="441.62" y1="497.03" x2="441.62" y2="498.54" stroke="#3b8c66" stroke-width="0.8"/>
<line x1="439.93" y1="497.03" x2="443.32" y2="497.03" stroke="#3b8c66" stroke-width="0.8"/>
<line x1="439.93" y1="498.54" x2="443.32" y2="498.54" stroke="#3b8c66" stroke-width="0.8"/>
<line x1="453.45" y1="494.2" x2="453.45" y2="495.71" stroke="#3b8c66" stroke-width="0.8"/>
<line x1="451.75" y1="494.2" x2="455.15" y2="494.2" stroke="#3b8c66" stroke-width="0.8"/>
<line x1="451.75" y1="495.71" x2="455.15" y2="495.71" stroke="#3b8c66" stroke-width="0.8"/>
<line x1="465.27" y1="491.68" x2="465.27" y2="493.19" stroke="#3b8c66" stroke-width="0.8"/>
<line x1="463.57" y1="491.68" x2="466.97" y2="491.68" stroke="#3b8c66" stroke-width="0.8"/>
<line x1="463.57" y1="493.19" x2="466.97" y2="493.19" stroke="#3b8c66" stroke-width="0.8"/>
<line x1="477.1" y1="489.48" x2="477.1" y2="490.99" stroke="#3b8c66" stroke-width="0.8"/>
<line x1="475.4" y1="489.48" x2="478.8" y2="489.48" stroke="#3b8c66" stroke-width="0.8"/>
<line x1="475.4" y1="490.99" x2="478.8" y2="490.99" stroke="#3b8c66" stroke-width="0.8"/>
<line x1="488.93" y1="487.6" x2="488.93" y2="489.1" stroke="#3b8c66" stroke-width="0.8"/>
<line x1="487.23" y1="487.6" x2="490.62" y2="487.6" stroke="#3b8c66" stroke-width="0.8"/>
<line x1="487.23" y1="489.1" x2="490.62" y2="489.1" stroke="#3b8c66" stroke-width="0.8"/>
<line x1="500.75" y1="485.71" x2="500.75" y2="487.22" stroke="#3b8c66" stroke-width="0.8"/>
<line x1="499.05" y1="485.71" x2="502.45" y2="485.71" stroke="#3b8c66" stroke-width="0.8"/>
<line x1="499.05" y1="487.22" x2="502.45" y2="487.22" stroke="#3b8c66" stroke-width="0.8"/>
<line x1="512.57" y1="483.82" x2="512.57" y2="485.33" stroke="#3b8c66" stroke-width="0.8"/>
<line x1="510.87" y1="483.82" x2="514.27" y2="483.82" stroke="#3b8c66" stroke-width="0.8"/>
<line x1="510.87" y1="485.33" x2="514.27" y2="485.33" stroke="#3b8c66" stroke-width="0.8"/>
<line x1="524.4" y1="482.25" x2="524.4" y2="483.76" stroke="#3b8c66" stroke-width="0.8"/>
<line x1="522.7" y1="482.25" x2="526.1" y2="482.25" stroke="#3b8c66" stroke-width="0.8"/>
<line x1="522.7" y1="483.76" x2="526.1" y2="483.76" stroke="#3b8c66" stroke-width="0.8"/>
<path d="M382.5 548.73 L394.32 548.11 L406.15 546.53 L417.98 522.94 L429.8 504.07 L441.62 496.21 L453.45 491.18 L465.27 487.09 L477.1 483.95 L488.93 481.75 L500.75 479.86 L512.57 477.97 L524.4 476.71" fill="none" stroke="#5b8fbd" stroke-width="1.4" stroke-linejoin="round" stroke-linecap="round"/>
<line x1="382.5" y1="547.98" x2="382.5" y2="549.49" stroke="#5b8fbd" stroke-width="0.8"/>
<line x1="380.8" y1="547.98" x2="384.2" y2="547.98" stroke="#5b8fbd" stroke-width="0.8"/>
<line x1="380.8" y1="549.49" x2="384.2" y2="549.49" stroke="#5b8fbd" stroke-width="0.8"/>
<line x1="394.32" y1="547.35" x2="394.32" y2="548.86" stroke="#5b8fbd" stroke-width="0.8"/>
<line x1="392.62" y1="547.35" x2="396.02" y2="547.35" stroke="#5b8fbd" stroke-width="0.8"/>
<line x1="392.62" y1="548.86" x2="396.02" y2="548.86" stroke="#5b8fbd" stroke-width="0.8"/>
<line x1="406.15" y1="545.27" x2="406.15" y2="547.79" stroke="#5b8fbd" stroke-width="0.8"/>
<line x1="404.45" y1="545.27" x2="407.85" y2="545.27" stroke="#5b8fbd" stroke-width="0.8"/>
<line x1="404.45" y1="547.79" x2="407.85" y2="547.79" stroke="#5b8fbd" stroke-width="0.8"/>
<line x1="417.98" y1="521.06" x2="417.98" y2="524.83" stroke="#5b8fbd" stroke-width="0.8"/>
<line x1="416.28" y1="521.06" x2="419.68" y2="521.06" stroke="#5b8fbd" stroke-width="0.8"/>
<line x1="416.28" y1="524.83" x2="419.68" y2="524.83" stroke="#5b8fbd" stroke-width="0.8"/>
<line x1="429.8" y1="502.82" x2="429.8" y2="505.33" stroke="#5b8fbd" stroke-width="0.8"/>
<line x1="428.1" y1="502.82" x2="431.5" y2="502.82" stroke="#5b8fbd" stroke-width="0.8"/>
<line x1="428.1" y1="505.33" x2="431.5" y2="505.33" stroke="#5b8fbd" stroke-width="0.8"/>
<line x1="441.62" y1="495.46" x2="441.62" y2="496.97" stroke="#5b8fbd" stroke-width="0.8"/>
<line x1="439.93" y1="495.46" x2="443.32" y2="495.46" stroke="#5b8fbd" stroke-width="0.8"/>
<line x1="439.93" y1="496.97" x2="443.32" y2="496.97" stroke="#5b8fbd" stroke-width="0.8"/>
<line x1="453.45" y1="490.43" x2="453.45" y2="491.94" stroke="#5b8fbd" stroke-width="0.8"/>
<line x1="451.75" y1="490.43" x2="455.15" y2="490.43" stroke="#5b8fbd" stroke-width="0.8"/>
<line x1="451.75" y1="491.94" x2="455.15" y2="491.94" stroke="#5b8fbd" stroke-width="0.8"/>
<line x1="465.27" y1="486.34" x2="465.27" y2="487.85" stroke="#5b8fbd" stroke-width="0.8"/>
<line x1="463.57" y1="486.34" x2="466.97" y2="486.34" stroke="#5b8fbd" stroke-width="0.8"/>
<line x1="463.57" y1="487.85" x2="466.97" y2="487.85" stroke="#5b8fbd" stroke-width="0.8"/>
<line x1="477.1" y1="483.19" x2="477.1" y2="484.7" stroke="#5b8fbd" stroke-width="0.8"/>
<line x1="475.4" y1="483.19" x2="478.8" y2="483.19" stroke="#5b8fbd" stroke-width="0.8"/>
<line x1="475.4" y1="484.7" x2="478.8" y2="484.7" stroke="#5b8fbd" stroke-width="0.8"/>
<line x1="488.93" y1="480.99" x2="488.93" y2="482.5" stroke="#5b8fbd" stroke-width="0.8"/>
<line x1="487.23" y1="480.99" x2="490.62" y2="480.99" stroke="#5b8fbd" stroke-width="0.8"/>
<line x1="487.23" y1="482.5" x2="490.62" y2="482.5" stroke="#5b8fbd" stroke-width="0.8"/>
<line x1="500.75" y1="479.1" x2="500.75" y2="480.61" stroke="#5b8fbd" stroke-width="0.8"/>
<line x1="499.05" y1="479.1" x2="502.45" y2="479.1" stroke="#5b8fbd" stroke-width="0.8"/>
<line x1="499.05" y1="480.61" x2="502.45" y2="480.61" stroke="#5b8fbd" stroke-width="0.8"/>
<line x1="512.57" y1="477.22" x2="512.57" y2="478.73" stroke="#5b8fbd" stroke-width="0.8"/>
<line x1="510.87" y1="477.22" x2="514.27" y2="477.22" stroke="#5b8fbd" stroke-width="0.8"/>
<line x1="510.87" y1="478.73" x2="514.27" y2="478.73" stroke="#5b8fbd" stroke-width="0.8"/>
<line x1="524.4" y1="475.96" x2="524.4" y2="477.47" stroke="#5b8fbd" stroke-width="0.8"/>
<line x1="522.7" y1="475.96" x2="526.1" y2="475.96" stroke="#5b8fbd" stroke-width="0.8"/>
<line x1="522.7" y1="477.47" x2="526.1" y2="477.47" stroke="#5b8fbd" stroke-width="0.8"/>
<path d="M382.5 548.73 L394.32 547.79 L406.15 544.96 L417.98 513.51 L429.8 501.56 L441.62 494.33 L453.45 489.61 L465.27 485.83 L477.1 483 L488.93 480.8 L500.75 478.91 L512.57 477.03 L524.4 475.77" fill="none" stroke="#000" stroke-width="1.7" stroke-linejoin="round" stroke-linecap="round"/>
<line x1="382.5" y1="547.98" x2="382.5" y2="549.49" stroke="#000" stroke-width="0.8"/>
<line x1="380.8" y1="547.98" x2="384.2" y2="547.98" stroke="#000" stroke-width="0.8"/>
<line x1="380.8" y1="549.49" x2="384.2" y2="549.49" stroke="#000" stroke-width="0.8"/>
<line x1="394.32" y1="547.04" x2="394.32" y2="548.55" stroke="#000" stroke-width="0.8"/>
<line x1="392.62" y1="547.04" x2="396.02" y2="547.04" stroke="#000" stroke-width="0.8"/>
<line x1="392.62" y1="548.55" x2="396.02" y2="548.55" stroke="#000" stroke-width="0.8"/>
<line x1="406.15" y1="543.7" x2="406.15" y2="546.22" stroke="#000" stroke-width="0.8"/>
<line x1="404.45" y1="543.7" x2="407.85" y2="543.7" stroke="#000" stroke-width="0.8"/>
<line x1="404.45" y1="546.22" x2="407.85" y2="546.22" stroke="#000" stroke-width="0.8"/>
<line x1="417.98" y1="511.62" x2="417.98" y2="515.4" stroke="#000" stroke-width="0.8"/>
<line x1="416.28" y1="511.62" x2="419.68" y2="511.62" stroke="#000" stroke-width="0.8"/>
<line x1="416.28" y1="515.4" x2="419.68" y2="515.4" stroke="#000" stroke-width="0.8"/>
<line x1="429.8" y1="500.62" x2="429.8" y2="502.5" stroke="#000" stroke-width="0.8"/>
<line x1="428.1" y1="500.62" x2="431.5" y2="500.62" stroke="#000" stroke-width="0.8"/>
<line x1="428.1" y1="502.5" x2="431.5" y2="502.5" stroke="#000" stroke-width="0.8"/>
<line x1="441.62" y1="493.57" x2="441.62" y2="495.08" stroke="#000" stroke-width="0.8"/>
<line x1="439.93" y1="493.57" x2="443.32" y2="493.57" stroke="#000" stroke-width="0.8"/>
<line x1="439.93" y1="495.08" x2="443.32" y2="495.08" stroke="#000" stroke-width="0.8"/>
<line x1="453.45" y1="488.85" x2="453.45" y2="490.36" stroke="#000" stroke-width="0.8"/>
<line x1="451.75" y1="488.85" x2="455.15" y2="488.85" stroke="#000" stroke-width="0.8"/>
<line x1="451.75" y1="490.36" x2="455.15" y2="490.36" stroke="#000" stroke-width="0.8"/>
<line x1="465.27" y1="485.08" x2="465.27" y2="486.59" stroke="#000" stroke-width="0.8"/>
<line x1="463.57" y1="485.08" x2="466.97" y2="485.08" stroke="#000" stroke-width="0.8"/>
<line x1="463.57" y1="486.59" x2="466.97" y2="486.59" stroke="#000" stroke-width="0.8"/>
<line x1="477.1" y1="482.25" x2="477.1" y2="483.76" stroke="#000" stroke-width="0.8"/>
<line x1="475.4" y1="482.25" x2="478.8" y2="482.25" stroke="#000" stroke-width="0.8"/>
<line x1="475.4" y1="483.76" x2="478.8" y2="483.76" stroke="#000" stroke-width="0.8"/>
<line x1="488.93" y1="480.05" x2="488.93" y2="481.56" stroke="#000" stroke-width="0.8"/>
<line x1="487.23" y1="480.05" x2="490.62" y2="480.05" stroke="#000" stroke-width="0.8"/>
<line x1="487.23" y1="481.56" x2="490.62" y2="481.56" stroke="#000" stroke-width="0.8"/>
<line x1="500.75" y1="478.16" x2="500.75" y2="479.67" stroke="#000" stroke-width="0.8"/>
<line x1="499.05" y1="478.16" x2="502.45" y2="478.16" stroke="#000" stroke-width="0.8"/>
<line x1="499.05" y1="479.67" x2="502.45" y2="479.67" stroke="#000" stroke-width="0.8"/>
<line x1="512.57" y1="476.27" x2="512.57" y2="477.78" stroke="#000" stroke-width="0.8"/>
<line x1="510.87" y1="476.27" x2="514.27" y2="476.27" stroke="#000" stroke-width="0.8"/>
<line x1="510.87" y1="477.78" x2="514.27" y2="477.78" stroke="#000" stroke-width="0.8"/>
<line x1="524.4" y1="475.02" x2="524.4" y2="476.52" stroke="#000" stroke-width="0.8"/>
<line x1="522.7" y1="475.02" x2="526.1" y2="475.02" stroke="#000" stroke-width="0.8"/>
<line x1="522.7" y1="476.52" x2="526.1" y2="476.52" stroke="#000" stroke-width="0.8"/>
<line x1="382.5" y1="456.35" x2="382.5" y2="551.8" stroke="#000" stroke-width="1.15"/>
<line x1="381.95" y1="551.25" x2="524.95" y2="551.25" stroke="#000" stroke-width="1.15"/>
<line x1="378.3" y1="456.9" x2="382.5" y2="456.9" stroke="#000" stroke-width="1.1"/>
<text x="378" y="460.1" font-size="8" font-weight="bold" font-style="normal" text-anchor="end" fill="#000">1.5</text>
<line x1="378.3" y1="488.35" x2="382.5" y2="488.35" stroke="#000" stroke-width="1.1"/>
<text x="378" y="491.32" font-size="8" font-weight="bold" font-style="normal" text-anchor="end" fill="#000">1.0</text>
<line x1="378.3" y1="519.8" x2="382.5" y2="519.8" stroke="#000" stroke-width="1.1"/>
<text x="378" y="522.53" font-size="8" font-weight="bold" font-style="normal" text-anchor="end" fill="#000">0.5</text>
<line x1="378.3" y1="551.25" x2="382.5" y2="551.25" stroke="#000" stroke-width="1.1"/>
<text x="378" y="553.75" font-size="8" font-weight="bold" font-style="normal" text-anchor="end" fill="#000">0.0</text>
<line x1="382.5" y1="551.25" x2="382.5" y2="555.55" stroke="#000" stroke-width="1.1"/>
<text x="382.5" y="563.45" font-size="8" font-weight="bold" font-style="normal" text-anchor="middle" fill="#000">0</text>
<line x1="406" y1="551.25" x2="406" y2="555.55" stroke="#000" stroke-width="1.1"/>
<text x="406" y="563.45" font-size="8" font-weight="bold" font-style="normal" text-anchor="middle" fill="#000">4</text>
<line x1="429.6" y1="551.25" x2="429.6" y2="555.55" stroke="#000" stroke-width="1.1"/>
<text x="429.6" y="563.45" font-size="8" font-weight="bold" font-style="normal" text-anchor="middle" fill="#000">8</text>
<line x1="453.3" y1="551.25" x2="453.3" y2="555.55" stroke="#000" stroke-width="1.1"/>
<text x="453.3" y="563.45" font-size="8" font-weight="bold" font-style="normal" text-anchor="middle" fill="#000">12</text>
<line x1="477" y1="551.25" x2="477" y2="555.55" stroke="#000" stroke-width="1.1"/>
<text x="477" y="563.45" font-size="8" font-weight="bold" font-style="normal" text-anchor="middle" fill="#000">16</text>
<line x1="500.7" y1="551.25" x2="500.7" y2="555.55" stroke="#000" stroke-width="1.1"/>
<text x="500.7" y="563.45" font-size="8" font-weight="bold" font-style="normal" text-anchor="middle" fill="#000">20</text>
<line x1="524.4" y1="551.25" x2="524.4" y2="555.55" stroke="#000" stroke-width="1.1"/>
<text x="524.4" y="563.45" font-size="8" font-weight="bold" font-style="normal" text-anchor="middle" fill="#000">24</text>
<text x="453.35" y="577.05" font-size="9.1" font-weight="bold" font-style="normal" text-anchor="middle" fill="#000">Time (h)</text>
<text x="360.8" y="503.4" font-size="9.8" font-weight="bold" text-anchor="middle" transform="rotate(-90 360.8 503.4)">OD<tspan font-size="6.5" dy="1.6" stroke="#000" stroke-width="0.2">600</tspan></text>
<line x1="545.6" y1="463.1" x2="555.6" y2="463.1" stroke="#000" stroke-width="1.6"/>
<text x="561.2" y="466" font-size="7.92" font-weight="normal" font-style="normal" text-anchor="start" fill="#111">WT</text>
<line x1="545.6" y1="475.7" x2="555.6" y2="475.7" stroke="#5b8fbd" stroke-width="1.4"/>
<text x="561.2" y="478.6" font-size="7.92" font-weight="normal" font-style="normal" text-anchor="start" fill="#111">Δ<tspan font-style="italic">cueO</tspan></text>
<line x1="545.6" y1="488.4" x2="555.6" y2="488.4" stroke="#9fd4b0" stroke-width="1.1"/>
<text x="561.2" y="491.3" font-size="7.92" font-weight="normal" font-style="normal" text-anchor="start" fill="#111">Δ<tspan font-style="italic">copA</tspan></text>
<line x1="545.6" y1="501" x2="555.6" y2="501" stroke="#3b8c66" stroke-width="1.5"/>
<text x="561.2" y="503.9" font-size="7.92" font-weight="normal" font-style="normal" text-anchor="start" fill="#111">Δ<tspan font-style="italic">cueO</tspan> Δ<tspan font-style="italic">copA</tspan></text>
<path d="M614.2 459.9 H618.5 V501 H614.2" fill="none" stroke="#111" stroke-width="1.0"/>
<text x="620.4" y="483.3" font-size="7.3" font-weight="normal" font-style="normal" text-anchor="start" fill="#000" stroke="#000" stroke-width="0.12">**</text>
<path d="M384 699.87 L395.86 698.61 L407.72 693.56 L419.57 661.36 L431.43 651.26 L443.29 645.58 L455.15 641.16 L467.01 637.06 L478.87 634.22 L490.72 632.01 L502.58 629.8 L514.44 627.59 L526.3 626.64" fill="none" stroke="#d6cbe9" stroke-width="1.3" stroke-linejoin="round" stroke-linecap="round"/>
<line x1="384" y1="699.12" x2="384" y2="700.63" stroke="#d6cbe9" stroke-width="0.8"/>
<line x1="382.3" y1="699.12" x2="385.7" y2="699.12" stroke="#d6cbe9" stroke-width="0.8"/>
<line x1="382.3" y1="700.63" x2="385.7" y2="700.63" stroke="#d6cbe9" stroke-width="0.8"/>
<line x1="395.86" y1="697.85" x2="395.86" y2="699.37" stroke="#d6cbe9" stroke-width="0.8"/>
<line x1="394.16" y1="697.85" x2="397.56" y2="697.85" stroke="#d6cbe9" stroke-width="0.8"/>
<line x1="394.16" y1="699.37" x2="397.56" y2="699.37" stroke="#d6cbe9" stroke-width="0.8"/>
<line x1="407.72" y1="691.04" x2="407.72" y2="696.09" stroke="#d6cbe9" stroke-width="0.8"/>
<line x1="406.02" y1="691.04" x2="409.42" y2="691.04" stroke="#d6cbe9" stroke-width="0.8"/>
<line x1="406.02" y1="696.09" x2="409.42" y2="696.09" stroke="#d6cbe9" stroke-width="0.8"/>
<line x1="419.57" y1="658.84" x2="419.57" y2="663.89" stroke="#d6cbe9" stroke-width="0.8"/>
<line x1="417.88" y1="658.84" x2="421.27" y2="658.84" stroke="#d6cbe9" stroke-width="0.8"/>
<line x1="417.88" y1="663.89" x2="421.27" y2="663.89" stroke="#d6cbe9" stroke-width="0.8"/>
<line x1="431.43" y1="650" x2="431.43" y2="652.52" stroke="#d6cbe9" stroke-width="0.8"/>
<line x1="429.73" y1="650" x2="433.13" y2="650" stroke="#d6cbe9" stroke-width="0.8"/>
<line x1="429.73" y1="652.52" x2="433.13" y2="652.52" stroke="#d6cbe9" stroke-width="0.8"/>
<line x1="443.29" y1="644.82" x2="443.29" y2="646.34" stroke="#d6cbe9" stroke-width="0.8"/>
<line x1="441.59" y1="644.82" x2="444.99" y2="644.82" stroke="#d6cbe9" stroke-width="0.8"/>
<line x1="441.59" y1="646.34" x2="444.99" y2="646.34" stroke="#d6cbe9" stroke-width="0.8"/>
<line x1="455.15" y1="640.4" x2="455.15" y2="641.92" stroke="#d6cbe9" stroke-width="0.8"/>
<line x1="453.45" y1="640.4" x2="456.85" y2="640.4" stroke="#d6cbe9" stroke-width="0.8"/>
<line x1="453.45" y1="641.92" x2="456.85" y2="641.92" stroke="#d6cbe9" stroke-width="0.8"/>
<line x1="467.01" y1="636.3" x2="467.01" y2="637.81" stroke="#d6cbe9" stroke-width="0.8"/>
<line x1="465.31" y1="636.3" x2="468.71" y2="636.3" stroke="#d6cbe9" stroke-width="0.8"/>
<line x1="465.31" y1="637.81" x2="468.71" y2="637.81" stroke="#d6cbe9" stroke-width="0.8"/>
<line x1="478.87" y1="633.46" x2="478.87" y2="634.97" stroke="#d6cbe9" stroke-width="0.8"/>
<line x1="477.17" y1="633.46" x2="480.57" y2="633.46" stroke="#d6cbe9" stroke-width="0.8"/>
<line x1="477.17" y1="634.97" x2="480.57" y2="634.97" stroke="#d6cbe9" stroke-width="0.8"/>
<line x1="490.72" y1="631.25" x2="490.72" y2="632.76" stroke="#d6cbe9" stroke-width="0.8"/>
<line x1="489.02" y1="631.25" x2="492.42" y2="631.25" stroke="#d6cbe9" stroke-width="0.8"/>
<line x1="489.02" y1="632.76" x2="492.42" y2="632.76" stroke="#d6cbe9" stroke-width="0.8"/>
<line x1="502.58" y1="629.04" x2="502.58" y2="630.55" stroke="#d6cbe9" stroke-width="0.8"/>
<line x1="500.88" y1="629.04" x2="504.28" y2="629.04" stroke="#d6cbe9" stroke-width="0.8"/>
<line x1="500.88" y1="630.55" x2="504.28" y2="630.55" stroke="#d6cbe9" stroke-width="0.8"/>
<line x1="514.44" y1="626.83" x2="514.44" y2="628.34" stroke="#d6cbe9" stroke-width="0.8"/>
<line x1="512.74" y1="626.83" x2="516.14" y2="626.83" stroke="#d6cbe9" stroke-width="0.8"/>
<line x1="512.74" y1="628.34" x2="516.14" y2="628.34" stroke="#d6cbe9" stroke-width="0.8"/>
<line x1="526.3" y1="625.88" x2="526.3" y2="627.4" stroke="#d6cbe9" stroke-width="0.8"/>
<line x1="524.6" y1="625.88" x2="528" y2="625.88" stroke="#d6cbe9" stroke-width="0.8"/>
<line x1="524.6" y1="627.4" x2="528" y2="627.4" stroke="#d6cbe9" stroke-width="0.8"/>
<path d="M384 699.87 L395.86 699.24 L407.72 697.66 L419.57 673.99 L431.43 655.05 L443.29 647.16 L455.15 642.11 L467.01 638 L478.87 634.85 L490.72 632.64 L502.58 630.74 L514.44 628.85 L526.3 627.59" fill="none" stroke="#5b8fbd" stroke-width="1.4" stroke-linejoin="round" stroke-linecap="round"/>
<line x1="384" y1="699.12" x2="384" y2="700.63" stroke="#5b8fbd" stroke-width="0.8"/>
<line x1="382.3" y1="699.12" x2="385.7" y2="699.12" stroke="#5b8fbd" stroke-width="0.8"/>
<line x1="382.3" y1="700.63" x2="385.7" y2="700.63" stroke="#5b8fbd" stroke-width="0.8"/>
<line x1="395.86" y1="698.49" x2="395.86" y2="700" stroke="#5b8fbd" stroke-width="0.8"/>
<line x1="394.16" y1="698.49" x2="397.56" y2="698.49" stroke="#5b8fbd" stroke-width="0.8"/>
<line x1="394.16" y1="700" x2="397.56" y2="700" stroke="#5b8fbd" stroke-width="0.8"/>
<line x1="407.72" y1="696.4" x2="407.72" y2="698.93" stroke="#5b8fbd" stroke-width="0.8"/>
<line x1="406.02" y1="696.4" x2="409.42" y2="696.4" stroke="#5b8fbd" stroke-width="0.8"/>
<line x1="406.02" y1="698.93" x2="409.42" y2="698.93" stroke="#5b8fbd" stroke-width="0.8"/>
<line x1="419.57" y1="672.1" x2="419.57" y2="675.88" stroke="#5b8fbd" stroke-width="0.8"/>
<line x1="417.88" y1="672.1" x2="421.27" y2="672.1" stroke="#5b8fbd" stroke-width="0.8"/>
<line x1="417.88" y1="675.88" x2="421.27" y2="675.88" stroke="#5b8fbd" stroke-width="0.8"/>
<line x1="431.43" y1="653.79" x2="431.43" y2="656.31" stroke="#5b8fbd" stroke-width="0.8"/>
<line x1="429.73" y1="653.79" x2="433.13" y2="653.79" stroke="#5b8fbd" stroke-width="0.8"/>
<line x1="429.73" y1="656.31" x2="433.13" y2="656.31" stroke="#5b8fbd" stroke-width="0.8"/>
<line x1="443.29" y1="646.4" x2="443.29" y2="647.92" stroke="#5b8fbd" stroke-width="0.8"/>
<line x1="441.59" y1="646.4" x2="444.99" y2="646.4" stroke="#5b8fbd" stroke-width="0.8"/>
<line x1="441.59" y1="647.92" x2="444.99" y2="647.92" stroke="#5b8fbd" stroke-width="0.8"/>
<line x1="455.15" y1="641.35" x2="455.15" y2="642.87" stroke="#5b8fbd" stroke-width="0.8"/>
<line x1="453.45" y1="641.35" x2="456.85" y2="641.35" stroke="#5b8fbd" stroke-width="0.8"/>
<line x1="453.45" y1="642.87" x2="456.85" y2="642.87" stroke="#5b8fbd" stroke-width="0.8"/>
<line x1="467.01" y1="637.25" x2="467.01" y2="638.76" stroke="#5b8fbd" stroke-width="0.8"/>
<line x1="465.31" y1="637.25" x2="468.71" y2="637.25" stroke="#5b8fbd" stroke-width="0.8"/>
<line x1="465.31" y1="638.76" x2="468.71" y2="638.76" stroke="#5b8fbd" stroke-width="0.8"/>
<line x1="478.87" y1="634.09" x2="478.87" y2="635.6" stroke="#5b8fbd" stroke-width="0.8"/>
<line x1="477.17" y1="634.09" x2="480.57" y2="634.09" stroke="#5b8fbd" stroke-width="0.8"/>
<line x1="477.17" y1="635.6" x2="480.57" y2="635.6" stroke="#5b8fbd" stroke-width="0.8"/>
<line x1="490.72" y1="631.88" x2="490.72" y2="633.4" stroke="#5b8fbd" stroke-width="0.8"/>
<line x1="489.02" y1="631.88" x2="492.42" y2="631.88" stroke="#5b8fbd" stroke-width="0.8"/>
<line x1="489.02" y1="633.4" x2="492.42" y2="633.4" stroke="#5b8fbd" stroke-width="0.8"/>
<line x1="502.58" y1="629.99" x2="502.58" y2="631.5" stroke="#5b8fbd" stroke-width="0.8"/>
<line x1="500.88" y1="629.99" x2="504.28" y2="629.99" stroke="#5b8fbd" stroke-width="0.8"/>
<line x1="500.88" y1="631.5" x2="504.28" y2="631.5" stroke="#5b8fbd" stroke-width="0.8"/>
<line x1="514.44" y1="628.09" x2="514.44" y2="629.61" stroke="#5b8fbd" stroke-width="0.8"/>
<line x1="512.74" y1="628.09" x2="516.14" y2="628.09" stroke="#5b8fbd" stroke-width="0.8"/>
<line x1="512.74" y1="629.61" x2="516.14" y2="629.61" stroke="#5b8fbd" stroke-width="0.8"/>
<line x1="526.3" y1="626.83" x2="526.3" y2="628.34" stroke="#5b8fbd" stroke-width="0.8"/>
<line x1="524.6" y1="626.83" x2="528" y2="626.83" stroke="#5b8fbd" stroke-width="0.8"/>
<line x1="524.6" y1="628.34" x2="528" y2="628.34" stroke="#5b8fbd" stroke-width="0.8"/>
<path d="M384 699.87 L395.86 699.87 L407.72 699.87 L419.57 699.87 L431.43 685.35 L443.29 659.47 L455.15 651.89 L467.01 647.16 L478.87 643.05 L490.72 639.9 L502.58 637.06 L514.44 635.48 L526.3 634.22" fill="none" stroke="#6a51a8" stroke-width="1.3" stroke-linejoin="round" stroke-linecap="round"/>
<line x1="384" y1="699.12" x2="384" y2="700.63" stroke="#6a51a8" stroke-width="0.8"/>
<line x1="382.3" y1="699.12" x2="385.7" y2="699.12" stroke="#6a51a8" stroke-width="0.8"/>
<line x1="382.3" y1="700.63" x2="385.7" y2="700.63" stroke="#6a51a8" stroke-width="0.8"/>
<line x1="395.86" y1="699.12" x2="395.86" y2="700.63" stroke="#6a51a8" stroke-width="0.8"/>
<line x1="394.16" y1="699.12" x2="397.56" y2="699.12" stroke="#6a51a8" stroke-width="0.8"/>
<line x1="394.16" y1="700.63" x2="397.56" y2="700.63" stroke="#6a51a8" stroke-width="0.8"/>
<line x1="407.72" y1="699.12" x2="407.72" y2="700.63" stroke="#6a51a8" stroke-width="0.8"/>
<line x1="406.02" y1="699.12" x2="409.42" y2="699.12" stroke="#6a51a8" stroke-width="0.8"/>
<line x1="406.02" y1="700.63" x2="409.42" y2="700.63" stroke="#6a51a8" stroke-width="0.8"/>
<line x1="419.57" y1="699.12" x2="419.57" y2="700.63" stroke="#6a51a8" stroke-width="0.8"/>
<line x1="417.88" y1="699.12" x2="421.27" y2="699.12" stroke="#6a51a8" stroke-width="0.8"/>
<line x1="417.88" y1="700.63" x2="421.27" y2="700.63" stroke="#6a51a8" stroke-width="0.8"/>
<line x1="431.43" y1="682.83" x2="431.43" y2="687.88" stroke="#6a51a8" stroke-width="0.8"/>
<line x1="429.73" y1="682.83" x2="433.13" y2="682.83" stroke="#6a51a8" stroke-width="0.8"/>
<line x1="429.73" y1="687.88" x2="433.13" y2="687.88" stroke="#6a51a8" stroke-width="0.8"/>
<line x1="443.29" y1="658.21" x2="443.29" y2="660.73" stroke="#6a51a8" stroke-width="0.8"/>
<line x1="441.59" y1="658.21" x2="444.99" y2="658.21" stroke="#6a51a8" stroke-width="0.8"/>
<line x1="441.59" y1="660.73" x2="444.99" y2="660.73" stroke="#6a51a8" stroke-width="0.8"/>
<line x1="455.15" y1="651.14" x2="455.15" y2="652.65" stroke="#6a51a8" stroke-width="0.8"/>
<line x1="453.45" y1="651.14" x2="456.85" y2="651.14" stroke="#6a51a8" stroke-width="0.8"/>
<line x1="453.45" y1="652.65" x2="456.85" y2="652.65" stroke="#6a51a8" stroke-width="0.8"/>
<line x1="467.01" y1="646.4" x2="467.01" y2="647.92" stroke="#6a51a8" stroke-width="0.8"/>
<line x1="465.31" y1="646.4" x2="468.71" y2="646.4" stroke="#6a51a8" stroke-width="0.8"/>
<line x1="465.31" y1="647.92" x2="468.71" y2="647.92" stroke="#6a51a8" stroke-width="0.8"/>
<line x1="478.87" y1="642.3" x2="478.87" y2="643.81" stroke="#6a51a8" stroke-width="0.8"/>
<line x1="477.17" y1="642.3" x2="480.57" y2="642.3" stroke="#6a51a8" stroke-width="0.8"/>
<line x1="477.17" y1="643.81" x2="480.57" y2="643.81" stroke="#6a51a8" stroke-width="0.8"/>
<line x1="490.72" y1="639.14" x2="490.72" y2="640.66" stroke="#6a51a8" stroke-width="0.8"/>
<line x1="489.02" y1="639.14" x2="492.42" y2="639.14" stroke="#6a51a8" stroke-width="0.8"/>
<line x1="489.02" y1="640.66" x2="492.42" y2="640.66" stroke="#6a51a8" stroke-width="0.8"/>
<line x1="502.58" y1="636.3" x2="502.58" y2="637.81" stroke="#6a51a8" stroke-width="0.8"/>
<line x1="500.88" y1="636.3" x2="504.28" y2="636.3" stroke="#6a51a8" stroke-width="0.8"/>
<line x1="500.88" y1="637.81" x2="504.28" y2="637.81" stroke="#6a51a8" stroke-width="0.8"/>
<line x1="514.44" y1="634.72" x2="514.44" y2="636.24" stroke="#6a51a8" stroke-width="0.8"/>
<line x1="512.74" y1="634.72" x2="516.14" y2="634.72" stroke="#6a51a8" stroke-width="0.8"/>
<line x1="512.74" y1="636.24" x2="516.14" y2="636.24" stroke="#6a51a8" stroke-width="0.8"/>
<line x1="526.3" y1="633.46" x2="526.3" y2="634.97" stroke="#6a51a8" stroke-width="0.8"/>
<line x1="524.6" y1="633.46" x2="528" y2="633.46" stroke="#6a51a8" stroke-width="0.8"/>
<line x1="524.6" y1="634.97" x2="528" y2="634.97" stroke="#6a51a8" stroke-width="0.8"/>
<path d="M384 699.87 L395.86 698.93 L407.72 696.09 L419.57 664.52 L431.43 652.52 L443.29 645.26 L455.15 640.53 L467.01 636.74 L478.87 633.9 L490.72 631.69 L502.58 629.8 L514.44 627.9 L526.3 626.64" fill="none" stroke="#000" stroke-width="1.7" stroke-linejoin="round" stroke-linecap="round"/>
<line x1="384" y1="699.12" x2="384" y2="700.63" stroke="#000" stroke-width="0.8"/>
<line x1="382.3" y1="699.12" x2="385.7" y2="699.12" stroke="#000" stroke-width="0.8"/>
<line x1="382.3" y1="700.63" x2="385.7" y2="700.63" stroke="#000" stroke-width="0.8"/>
<line x1="395.86" y1="698.17" x2="395.86" y2="699.69" stroke="#000" stroke-width="0.8"/>
<line x1="394.16" y1="698.17" x2="397.56" y2="698.17" stroke="#000" stroke-width="0.8"/>
<line x1="394.16" y1="699.69" x2="397.56" y2="699.69" stroke="#000" stroke-width="0.8"/>
<line x1="407.72" y1="694.82" x2="407.72" y2="697.35" stroke="#000" stroke-width="0.8"/>
<line x1="406.02" y1="694.82" x2="409.42" y2="694.82" stroke="#000" stroke-width="0.8"/>
<line x1="406.02" y1="697.35" x2="409.42" y2="697.35" stroke="#000" stroke-width="0.8"/>
<line x1="419.57" y1="662.63" x2="419.57" y2="666.41" stroke="#000" stroke-width="0.8"/>
<line x1="417.88" y1="662.63" x2="421.27" y2="662.63" stroke="#000" stroke-width="0.8"/>
<line x1="417.88" y1="666.41" x2="421.27" y2="666.41" stroke="#000" stroke-width="0.8"/>
<line x1="431.43" y1="651.58" x2="431.43" y2="653.47" stroke="#000" stroke-width="0.8"/>
<line x1="429.73" y1="651.58" x2="433.13" y2="651.58" stroke="#000" stroke-width="0.8"/>
<line x1="429.73" y1="653.47" x2="433.13" y2="653.47" stroke="#000" stroke-width="0.8"/>
<line x1="443.29" y1="644.51" x2="443.29" y2="646.02" stroke="#000" stroke-width="0.8"/>
<line x1="441.59" y1="644.51" x2="444.99" y2="644.51" stroke="#000" stroke-width="0.8"/>
<line x1="441.59" y1="646.02" x2="444.99" y2="646.02" stroke="#000" stroke-width="0.8"/>
<line x1="455.15" y1="639.77" x2="455.15" y2="641.29" stroke="#000" stroke-width="0.8"/>
<line x1="453.45" y1="639.77" x2="456.85" y2="639.77" stroke="#000" stroke-width="0.8"/>
<line x1="453.45" y1="641.29" x2="456.85" y2="641.29" stroke="#000" stroke-width="0.8"/>
<line x1="467.01" y1="635.98" x2="467.01" y2="637.5" stroke="#000" stroke-width="0.8"/>
<line x1="465.31" y1="635.98" x2="468.71" y2="635.98" stroke="#000" stroke-width="0.8"/>
<line x1="465.31" y1="637.5" x2="468.71" y2="637.5" stroke="#000" stroke-width="0.8"/>
<line x1="478.87" y1="633.14" x2="478.87" y2="634.66" stroke="#000" stroke-width="0.8"/>
<line x1="477.17" y1="633.14" x2="480.57" y2="633.14" stroke="#000" stroke-width="0.8"/>
<line x1="477.17" y1="634.66" x2="480.57" y2="634.66" stroke="#000" stroke-width="0.8"/>
<line x1="490.72" y1="630.93" x2="490.72" y2="632.45" stroke="#000" stroke-width="0.8"/>
<line x1="489.02" y1="630.93" x2="492.42" y2="630.93" stroke="#000" stroke-width="0.8"/>
<line x1="489.02" y1="632.45" x2="492.42" y2="632.45" stroke="#000" stroke-width="0.8"/>
<line x1="502.58" y1="629.04" x2="502.58" y2="630.55" stroke="#000" stroke-width="0.8"/>
<line x1="500.88" y1="629.04" x2="504.28" y2="629.04" stroke="#000" stroke-width="0.8"/>
<line x1="500.88" y1="630.55" x2="504.28" y2="630.55" stroke="#000" stroke-width="0.8"/>
<line x1="514.44" y1="627.15" x2="514.44" y2="628.66" stroke="#000" stroke-width="0.8"/>
<line x1="512.74" y1="627.15" x2="516.14" y2="627.15" stroke="#000" stroke-width="0.8"/>
<line x1="512.74" y1="628.66" x2="516.14" y2="628.66" stroke="#000" stroke-width="0.8"/>
<line x1="526.3" y1="625.88" x2="526.3" y2="627.4" stroke="#000" stroke-width="0.8"/>
<line x1="524.6" y1="625.88" x2="528" y2="625.88" stroke="#000" stroke-width="0.8"/>
<line x1="524.6" y1="627.4" x2="528" y2="627.4" stroke="#000" stroke-width="0.8"/>
<line x1="384" y1="607.15" x2="384" y2="702.95" stroke="#000" stroke-width="1.15"/>
<line x1="383.45" y1="702.4" x2="526.85" y2="702.4" stroke="#000" stroke-width="1.15"/>
<line x1="379.8" y1="607.7" x2="384" y2="607.7" stroke="#000" stroke-width="1.1"/>
<text x="379.5" y="610.9" font-size="8" font-weight="bold" font-style="normal" text-anchor="end" fill="#000">1.5</text>
<line x1="379.8" y1="639.25" x2="384" y2="639.25" stroke="#000" stroke-width="1.1"/>
<text x="379.5" y="642.22" font-size="8" font-weight="bold" font-style="normal" text-anchor="end" fill="#000">1.0</text>
<line x1="379.8" y1="670.8" x2="384" y2="670.8" stroke="#000" stroke-width="1.1"/>
<text x="379.5" y="673.53" font-size="8" font-weight="bold" font-style="normal" text-anchor="end" fill="#000">0.5</text>
<line x1="379.8" y1="702.4" x2="384" y2="702.4" stroke="#000" stroke-width="1.1"/>
<text x="379.5" y="704.9" font-size="8" font-weight="bold" font-style="normal" text-anchor="end" fill="#000">0.0</text>
<line x1="384" y1="702.4" x2="384" y2="706.7" stroke="#000" stroke-width="1.1"/>
<text x="384" y="714.6" font-size="8" font-weight="bold" font-style="normal" text-anchor="middle" fill="#000">0</text>
<line x1="407.7" y1="702.4" x2="407.7" y2="706.7" stroke="#000" stroke-width="1.1"/>
<text x="407.7" y="714.6" font-size="8" font-weight="bold" font-style="normal" text-anchor="middle" fill="#000">4</text>
<line x1="431.3" y1="702.4" x2="431.3" y2="706.7" stroke="#000" stroke-width="1.1"/>
<text x="431.3" y="714.6" font-size="8" font-weight="bold" font-style="normal" text-anchor="middle" fill="#000">8</text>
<line x1="455" y1="702.4" x2="455" y2="706.7" stroke="#000" stroke-width="1.1"/>
<text x="455" y="714.6" font-size="8" font-weight="bold" font-style="normal" text-anchor="middle" fill="#000">12</text>
<line x1="478.8" y1="702.4" x2="478.8" y2="706.7" stroke="#000" stroke-width="1.1"/>
<text x="478.8" y="714.6" font-size="8" font-weight="bold" font-style="normal" text-anchor="middle" fill="#000">16</text>
<line x1="502.5" y1="702.4" x2="502.5" y2="706.7" stroke="#000" stroke-width="1.1"/>
<text x="502.5" y="714.6" font-size="8" font-weight="bold" font-style="normal" text-anchor="middle" fill="#000">20</text>
<line x1="526.3" y1="702.4" x2="526.3" y2="706.7" stroke="#000" stroke-width="1.1"/>
<text x="526.3" y="714.6" font-size="8" font-weight="bold" font-style="normal" text-anchor="middle" fill="#000">24</text>
<text x="455.05" y="728.2" font-size="9.1" font-weight="bold" font-style="normal" text-anchor="middle" fill="#000">Time (h)</text>
<text x="362.2" y="654.6" font-size="9.8" font-weight="bold" text-anchor="middle" transform="rotate(-90 362.2 654.6)">OD<tspan font-size="6.5" dy="1.6" stroke="#000" stroke-width="0.2">600</tspan></text>
<line x1="546.7" y1="614.1" x2="557" y2="614.1" stroke="#000" stroke-width="1.6"/>
<text x="562.4" y="617" font-size="7.92" font-weight="normal" font-style="normal" text-anchor="start" fill="#111">WT</text>
<line x1="546.7" y1="626.7" x2="557" y2="626.7" stroke="#5b8fbd" stroke-width="1.4"/>
<text x="562.4" y="629.6" font-size="7.92" font-weight="normal" font-style="normal" text-anchor="start" fill="#111">Δ<tspan font-style="italic">cueO</tspan></text>
<line x1="546.7" y1="639.3" x2="557" y2="639.3" stroke="#d6cbe9" stroke-width="1.1"/>
<text x="562.4" y="642.2" font-size="7.92" font-weight="normal" font-style="normal" text-anchor="start" fill="#111">Δ<tspan font-style="italic">cusRS</tspan></text>
<line x1="546.7" y1="651.9" x2="557" y2="651.9" stroke="#6a51a8" stroke-width="1.5"/>
<text x="562.4" y="654.8" font-size="7.92" font-weight="normal" font-style="normal" text-anchor="start" fill="#111">Δ<tspan font-style="italic">cueO</tspan> Δ<tspan font-style="italic">cusRS</tspan></text>
<path d="M621.9 608.7 H626.6 V652.4 H621.9" fill="none" stroke="#111" stroke-width="1.0"/>
<text x="629.4" y="632.1" font-size="7.3" font-weight="normal" font-style="normal" text-anchor="start" fill="#000" stroke="#000" stroke-width="0.12">**</text>
<path d="M384.95 851.98 L396.82 851.98 L408.69 851.98 L420.56 852.17 L432.43 852.17 L444.3 852.17 L456.17 852.17 L468.05 852.17 L479.92 852.17 L491.79 852.04 L503.66 852.04 L515.53 851.91 L527.4 852.04" fill="none" stroke="#e5545f" stroke-width="1" stroke-linejoin="round" stroke-linecap="round"/>
<path d="M384.95 851.66 L396.82 851.66 L408.69 851.66 L420.56 851.79 L432.43 851.79 L444.3 851.79 L456.17 851.79 L468.05 851.79 L479.92 851.66 L491.79 851.66 L503.66 851.54 L515.53 851.29 L527.4 851.54" fill="none" stroke="#e88f78" stroke-width="1.1" stroke-linejoin="round" stroke-linecap="round"/>
<path d="M384.95 851.03 L396.82 850.4 L408.69 848.83 L420.56 825.25 L432.43 806.38 L444.3 798.51 L456.17 793.48 L468.05 789.39 L479.92 786.25 L491.79 784.05 L503.66 782.16 L515.53 780.27 L527.4 779.01" fill="none" stroke="#5b8fbd" stroke-width="1.4" stroke-linejoin="round" stroke-linecap="round"/>
<line x1="384.95" y1="850.28" x2="384.95" y2="851.79" stroke="#5b8fbd" stroke-width="0.8"/>
<line x1="383.25" y1="850.28" x2="386.65" y2="850.28" stroke="#5b8fbd" stroke-width="0.8"/>
<line x1="383.25" y1="851.79" x2="386.65" y2="851.79" stroke="#5b8fbd" stroke-width="0.8"/>
<line x1="396.82" y1="849.65" x2="396.82" y2="851.16" stroke="#5b8fbd" stroke-width="0.8"/>
<line x1="395.12" y1="849.65" x2="398.52" y2="849.65" stroke="#5b8fbd" stroke-width="0.8"/>
<line x1="395.12" y1="851.16" x2="398.52" y2="851.16" stroke="#5b8fbd" stroke-width="0.8"/>
<line x1="408.69" y1="847.57" x2="408.69" y2="850.09" stroke="#5b8fbd" stroke-width="0.8"/>
<line x1="406.99" y1="847.57" x2="410.39" y2="847.57" stroke="#5b8fbd" stroke-width="0.8"/>
<line x1="406.99" y1="850.09" x2="410.39" y2="850.09" stroke="#5b8fbd" stroke-width="0.8"/>
<line x1="420.56" y1="823.36" x2="420.56" y2="827.13" stroke="#5b8fbd" stroke-width="0.8"/>
<line x1="418.86" y1="823.36" x2="422.26" y2="823.36" stroke="#5b8fbd" stroke-width="0.8"/>
<line x1="418.86" y1="827.13" x2="422.26" y2="827.13" stroke="#5b8fbd" stroke-width="0.8"/>
<line x1="432.43" y1="805.12" x2="432.43" y2="807.63" stroke="#5b8fbd" stroke-width="0.8"/>
<line x1="430.73" y1="805.12" x2="434.13" y2="805.12" stroke="#5b8fbd" stroke-width="0.8"/>
<line x1="430.73" y1="807.63" x2="434.13" y2="807.63" stroke="#5b8fbd" stroke-width="0.8"/>
<line x1="444.3" y1="797.76" x2="444.3" y2="799.27" stroke="#5b8fbd" stroke-width="0.8"/>
<line x1="442.6" y1="797.76" x2="446" y2="797.76" stroke="#5b8fbd" stroke-width="0.8"/>
<line x1="442.6" y1="799.27" x2="446" y2="799.27" stroke="#5b8fbd" stroke-width="0.8"/>
<line x1="456.17" y1="792.73" x2="456.17" y2="794.24" stroke="#5b8fbd" stroke-width="0.8"/>
<line x1="454.47" y1="792.73" x2="457.87" y2="792.73" stroke="#5b8fbd" stroke-width="0.8"/>
<line x1="454.47" y1="794.24" x2="457.87" y2="794.24" stroke="#5b8fbd" stroke-width="0.8"/>
<line x1="468.05" y1="788.64" x2="468.05" y2="790.15" stroke="#5b8fbd" stroke-width="0.8"/>
<line x1="466.35" y1="788.64" x2="469.75" y2="788.64" stroke="#5b8fbd" stroke-width="0.8"/>
<line x1="466.35" y1="790.15" x2="469.75" y2="790.15" stroke="#5b8fbd" stroke-width="0.8"/>
<line x1="479.92" y1="785.49" x2="479.92" y2="787" stroke="#5b8fbd" stroke-width="0.8"/>
<line x1="478.22" y1="785.49" x2="481.62" y2="785.49" stroke="#5b8fbd" stroke-width="0.8"/>
<line x1="478.22" y1="787" x2="481.62" y2="787" stroke="#5b8fbd" stroke-width="0.8"/>
<line x1="491.79" y1="783.29" x2="491.79" y2="784.8" stroke="#5b8fbd" stroke-width="0.8"/>
<line x1="490.09" y1="783.29" x2="493.49" y2="783.29" stroke="#5b8fbd" stroke-width="0.8"/>
<line x1="490.09" y1="784.8" x2="493.49" y2="784.8" stroke="#5b8fbd" stroke-width="0.8"/>
<line x1="503.66" y1="781.4" x2="503.66" y2="782.91" stroke="#5b8fbd" stroke-width="0.8"/>
<line x1="501.96" y1="781.4" x2="505.36" y2="781.4" stroke="#5b8fbd" stroke-width="0.8"/>
<line x1="501.96" y1="782.91" x2="505.36" y2="782.91" stroke="#5b8fbd" stroke-width="0.8"/>
<line x1="515.53" y1="779.52" x2="515.53" y2="781.03" stroke="#5b8fbd" stroke-width="0.8"/>
<line x1="513.83" y1="779.52" x2="517.23" y2="779.52" stroke="#5b8fbd" stroke-width="0.8"/>
<line x1="513.83" y1="781.03" x2="517.23" y2="781.03" stroke="#5b8fbd" stroke-width="0.8"/>
<line x1="527.4" y1="778.26" x2="527.4" y2="779.77" stroke="#5b8fbd" stroke-width="0.8"/>
<line x1="525.7" y1="778.26" x2="529.1" y2="778.26" stroke="#5b8fbd" stroke-width="0.8"/>
<line x1="525.7" y1="779.77" x2="529.1" y2="779.77" stroke="#5b8fbd" stroke-width="0.8"/>
<path d="M384.95 851.03 L396.82 850.09 L408.69 847.26 L420.56 815.81 L432.43 803.86 L444.3 796.63 L456.17 791.91 L468.05 788.13 L479.92 785.3 L491.79 783.1 L503.66 781.22 L515.53 779.33 L527.4 778.07" fill="none" stroke="#000" stroke-width="1.7" stroke-linejoin="round" stroke-linecap="round"/>
<line x1="384.95" y1="850.28" x2="384.95" y2="851.79" stroke="#000" stroke-width="0.8"/>
<line x1="383.25" y1="850.28" x2="386.65" y2="850.28" stroke="#000" stroke-width="0.8"/>
<line x1="383.25" y1="851.79" x2="386.65" y2="851.79" stroke="#000" stroke-width="0.8"/>
<line x1="396.82" y1="849.34" x2="396.82" y2="850.85" stroke="#000" stroke-width="0.8"/>
<line x1="395.12" y1="849.34" x2="398.52" y2="849.34" stroke="#000" stroke-width="0.8"/>
<line x1="395.12" y1="850.85" x2="398.52" y2="850.85" stroke="#000" stroke-width="0.8"/>
<line x1="408.69" y1="846" x2="408.69" y2="848.52" stroke="#000" stroke-width="0.8"/>
<line x1="406.99" y1="846" x2="410.39" y2="846" stroke="#000" stroke-width="0.8"/>
<line x1="406.99" y1="848.52" x2="410.39" y2="848.52" stroke="#000" stroke-width="0.8"/>
<line x1="420.56" y1="813.92" x2="420.56" y2="817.7" stroke="#000" stroke-width="0.8"/>
<line x1="418.86" y1="813.92" x2="422.26" y2="813.92" stroke="#000" stroke-width="0.8"/>
<line x1="418.86" y1="817.7" x2="422.26" y2="817.7" stroke="#000" stroke-width="0.8"/>
<line x1="432.43" y1="802.92" x2="432.43" y2="804.8" stroke="#000" stroke-width="0.8"/>
<line x1="430.73" y1="802.92" x2="434.13" y2="802.92" stroke="#000" stroke-width="0.8"/>
<line x1="430.73" y1="804.8" x2="434.13" y2="804.8" stroke="#000" stroke-width="0.8"/>
<line x1="444.3" y1="795.87" x2="444.3" y2="797.38" stroke="#000" stroke-width="0.8"/>
<line x1="442.6" y1="795.87" x2="446" y2="795.87" stroke="#000" stroke-width="0.8"/>
<line x1="442.6" y1="797.38" x2="446" y2="797.38" stroke="#000" stroke-width="0.8"/>
<line x1="456.17" y1="791.15" x2="456.17" y2="792.66" stroke="#000" stroke-width="0.8"/>
<line x1="454.47" y1="791.15" x2="457.87" y2="791.15" stroke="#000" stroke-width="0.8"/>
<line x1="454.47" y1="792.66" x2="457.87" y2="792.66" stroke="#000" stroke-width="0.8"/>
<line x1="468.05" y1="787.38" x2="468.05" y2="788.89" stroke="#000" stroke-width="0.8"/>
<line x1="466.35" y1="787.38" x2="469.75" y2="787.38" stroke="#000" stroke-width="0.8"/>
<line x1="466.35" y1="788.89" x2="469.75" y2="788.89" stroke="#000" stroke-width="0.8"/>
<line x1="479.92" y1="784.55" x2="479.92" y2="786.06" stroke="#000" stroke-width="0.8"/>
<line x1="478.22" y1="784.55" x2="481.62" y2="784.55" stroke="#000" stroke-width="0.8"/>
<line x1="478.22" y1="786.06" x2="481.62" y2="786.06" stroke="#000" stroke-width="0.8"/>
<line x1="491.79" y1="782.35" x2="491.79" y2="783.86" stroke="#000" stroke-width="0.8"/>
<line x1="490.09" y1="782.35" x2="493.49" y2="782.35" stroke="#000" stroke-width="0.8"/>
<line x1="490.09" y1="783.86" x2="493.49" y2="783.86" stroke="#000" stroke-width="0.8"/>
<line x1="503.66" y1="780.46" x2="503.66" y2="781.97" stroke="#000" stroke-width="0.8"/>
<line x1="501.96" y1="780.46" x2="505.36" y2="780.46" stroke="#000" stroke-width="0.8"/>
<line x1="501.96" y1="781.97" x2="505.36" y2="781.97" stroke="#000" stroke-width="0.8"/>
<line x1="515.53" y1="778.57" x2="515.53" y2="780.08" stroke="#000" stroke-width="0.8"/>
<line x1="513.83" y1="778.57" x2="517.23" y2="778.57" stroke="#000" stroke-width="0.8"/>
<line x1="513.83" y1="780.08" x2="517.23" y2="780.08" stroke="#000" stroke-width="0.8"/>
<line x1="527.4" y1="777.32" x2="527.4" y2="778.82" stroke="#000" stroke-width="0.8"/>
<line x1="525.7" y1="777.32" x2="529.1" y2="777.32" stroke="#000" stroke-width="0.8"/>
<line x1="525.7" y1="778.82" x2="529.1" y2="778.82" stroke="#000" stroke-width="0.8"/>
<line x1="384.95" y1="758.65" x2="384.95" y2="854.1" stroke="#000" stroke-width="1.15"/>
<line x1="384.4" y1="853.55" x2="527.95" y2="853.55" stroke="#000" stroke-width="1.15"/>
<line x1="380.75" y1="759.2" x2="384.95" y2="759.2" stroke="#000" stroke-width="1.1"/>
<text x="380.45" y="762.4" font-size="8" font-weight="bold" font-style="normal" text-anchor="end" fill="#000">1.5</text>
<line x1="380.75" y1="790.65" x2="384.95" y2="790.65" stroke="#000" stroke-width="1.1"/>
<text x="380.45" y="793.62" font-size="8" font-weight="bold" font-style="normal" text-anchor="end" fill="#000">1.0</text>
<line x1="380.75" y1="822.1" x2="384.95" y2="822.1" stroke="#000" stroke-width="1.1"/>
<text x="380.45" y="824.83" font-size="8" font-weight="bold" font-style="normal" text-anchor="end" fill="#000">0.5</text>
<line x1="380.75" y1="853.55" x2="384.95" y2="853.55" stroke="#000" stroke-width="1.1"/>
<text x="380.45" y="856.05" font-size="8" font-weight="bold" font-style="normal" text-anchor="end" fill="#000">0.0</text>
<line x1="384.95" y1="853.55" x2="384.95" y2="857.85" stroke="#000" stroke-width="1.1"/>
<text x="384.95" y="865.75" font-size="8" font-weight="bold" font-style="normal" text-anchor="middle" fill="#000">0</text>
<line x1="408.6" y1="853.55" x2="408.6" y2="857.85" stroke="#000" stroke-width="1.1"/>
<text x="408.6" y="865.75" font-size="8" font-weight="bold" font-style="normal" text-anchor="middle" fill="#000">4</text>
<line x1="432.2" y1="853.55" x2="432.2" y2="857.85" stroke="#000" stroke-width="1.1"/>
<text x="432.2" y="865.75" font-size="8" font-weight="bold" font-style="normal" text-anchor="middle" fill="#000">8</text>
<line x1="456" y1="853.55" x2="456" y2="857.85" stroke="#000" stroke-width="1.1"/>
<text x="456" y="865.75" font-size="8" font-weight="bold" font-style="normal" text-anchor="middle" fill="#000">12</text>
<line x1="479.8" y1="853.55" x2="479.8" y2="857.85" stroke="#000" stroke-width="1.1"/>
<text x="479.8" y="865.75" font-size="8" font-weight="bold" font-style="normal" text-anchor="middle" fill="#000">16</text>
<line x1="503.6" y1="853.55" x2="503.6" y2="857.85" stroke="#000" stroke-width="1.1"/>
<text x="503.6" y="865.75" font-size="8" font-weight="bold" font-style="normal" text-anchor="middle" fill="#000">20</text>
<line x1="527.4" y1="853.55" x2="527.4" y2="857.85" stroke="#000" stroke-width="1.1"/>
<text x="527.4" y="865.75" font-size="8" font-weight="bold" font-style="normal" text-anchor="middle" fill="#000">24</text>
<text x="456.07" y="879.35" font-size="9.1" font-weight="bold" font-style="normal" text-anchor="middle" fill="#000">Time (h)</text>
<text x="362.8" y="805.8" font-size="9.8" font-weight="bold" text-anchor="middle" transform="rotate(-90 362.8 805.8)">OD<tspan font-size="6.5" dy="1.6" stroke="#000" stroke-width="0.2">600</tspan></text>
<line x1="547.7" y1="765" x2="557.7" y2="765" stroke="#000" stroke-width="1.6"/>
<text x="563.5" y="767.9" font-size="7.92" font-weight="normal" font-style="normal" text-anchor="start" fill="#111">WT</text>
<line x1="547.7" y1="777.6" x2="557.7" y2="777.6" stroke="#5b8fbd" stroke-width="1.4"/>
<text x="563.5" y="780.5" font-size="7.92" font-weight="normal" font-style="normal" text-anchor="start" fill="#111">Δ<tspan font-style="italic">cueO</tspan></text>
<line x1="547.7" y1="790.2" x2="557.7" y2="790.2" stroke="#e39482" stroke-width="1.1"/>
<text x="563.5" y="793.1" font-size="7.92" font-weight="normal" font-style="normal" text-anchor="start" fill="#111">Δ<tspan font-style="italic">sodA</tspan> Δ<tspan font-style="italic">sodB</tspan> Δ<tspan font-style="italic">sodC</tspan></text>
<line x1="547.7" y1="802.8" x2="557.7" y2="802.8" stroke="#e5545f" stroke-width="1.3"/>
<text x="563.5" y="805.7" font-size="7.92" font-weight="normal" font-style="normal" text-anchor="start" fill="#111">Δ<tspan font-style="italic">cueO</tspan> Δ<tspan font-style="italic">sodA</tspan> Δ<tspan font-style="italic">sodB</tspan> Δ<tspan font-style="italic">sodC</tspan></text>
<path d="M641.8 762.7 H645.8 V792.2 H641.8" fill="none" stroke="#111" stroke-width="1.0"/>
<text x="647" y="780.7" font-size="7.3" font-weight="normal" font-style="normal" text-anchor="start" fill="#000" stroke="#000" stroke-width="0.12">****</text>
<path d="M665.2 762.7 H670.3 V802.8 H665.2" fill="none" stroke="#111" stroke-width="1.0"/>
<text x="672.6" y="785.1" font-size="7.3" font-weight="normal" font-style="normal" text-anchor="start" fill="#000" stroke="#000" stroke-width="0.12">****</text>
</svg></body></html>
